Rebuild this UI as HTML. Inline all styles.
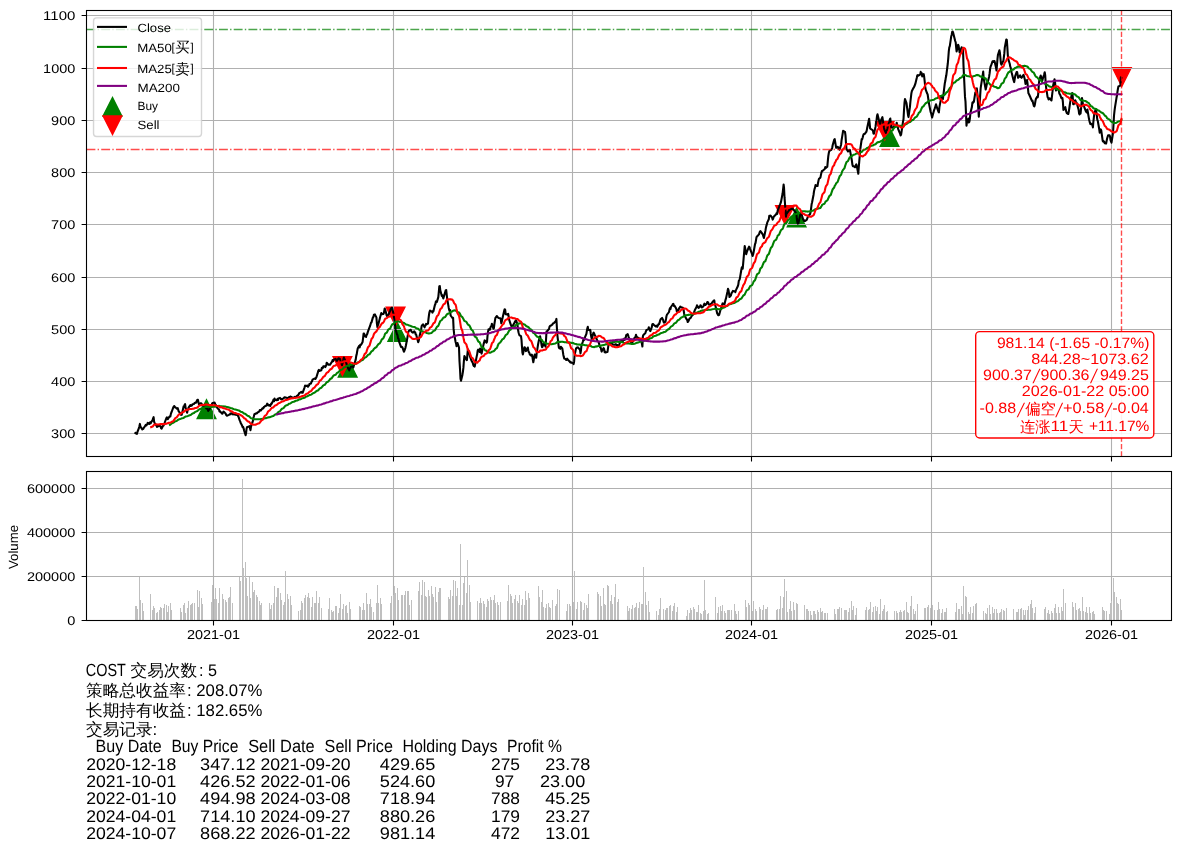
<!DOCTYPE html>
<html lang="zh"><head><meta charset="utf-8"><title>COST</title><style>html,body{margin:0;padding:0;background:#fff}body{width:1180px;height:852px;overflow:hidden}</style></head><body>
<svg width="1180" height="852" viewBox="0 0 1180 852" style="display:block;will-change:transform">
<rect width="1180" height="852" fill="#fff"/>
<path d="M206.5 399.9L197.2 418.5L215.8 418.5Z" fill="#008000" stroke="#008000" stroke-width="1.39" stroke-linejoin="miter" stroke-miterlimit="10"/>
<path d="M347.6 358.4L338.3 377.0L357.0 377.0Z" fill="#008000" stroke="#008000" stroke-width="1.39" stroke-linejoin="miter" stroke-miterlimit="10"/>
<path d="M397.3 322.6L388.0 341.2L406.6 341.2Z" fill="#008000" stroke="#008000" stroke-width="1.39" stroke-linejoin="miter" stroke-miterlimit="10"/>
<path d="M796.6 208.1L787.3 226.8L805.9 226.8Z" fill="#008000" stroke="#008000" stroke-width="1.39" stroke-linejoin="miter" stroke-miterlimit="10"/>
<path d="M889.5 127.6L880.2 146.2L898.8 146.2Z" fill="#008000" stroke="#008000" stroke-width="1.39" stroke-linejoin="miter" stroke-miterlimit="10"/>
<path d="M342.4 375.4L333.1 356.7L351.7 356.7Z" fill="#ff0000" stroke="#ff0000" stroke-width="1.39" stroke-linejoin="miter" stroke-miterlimit="10"/>
<path d="M395.5 325.8L386.2 307.1L404.9 307.1Z" fill="#ff0000" stroke="#ff0000" stroke-width="1.39" stroke-linejoin="miter" stroke-miterlimit="10"/>
<path d="M785.0 224.2L775.7 205.6L794.3 205.6Z" fill="#ff0000" stroke="#ff0000" stroke-width="1.39" stroke-linejoin="miter" stroke-miterlimit="10"/>
<path d="M884.8 139.9L875.5 121.3L894.1 121.3Z" fill="#ff0000" stroke="#ff0000" stroke-width="1.39" stroke-linejoin="miter" stroke-miterlimit="10"/>
<path d="M1121.8 86.4L1112.5 67.7L1131.2 67.7Z" fill="#ff0000" stroke="#ff0000" stroke-width="1.39" stroke-linejoin="miter" stroke-miterlimit="10"/>
<path d="M213.5 10.5V456.5M393.5 10.5V456.5M572.5 10.5V456.5M751.5 10.5V456.5M931.5 10.5V456.5M1111.5 10.5V456.5M86.5 433.5H1171.5M86.5 381.5H1171.5M86.5 329.5H1171.5M86.5 277.5H1171.5M86.5 224.5H1171.5M86.5 172.5H1171.5M86.5 120.5H1171.5M86.5 68.5H1171.5M86.5 15.5H1171.5" stroke="#b0b0b0" stroke-width="1.1" fill="none"/>
<polyline points="135.4,433.0 135.9,433.4 136.4,433.7 136.9,433.9 137.4,432.0 138.9,428.2 139.4,426.3 139.9,423.9 140.4,426.4 140.8,427.2 142.3,429.4 142.8,429.1 143.3,428.8 143.8,427.8 144.3,427.2 145.8,424.9 146.3,425.5 146.7,424.8 147.2,424.4 147.7,422.9 149.2,423.9 149.7,422.8 150.2,422.3 150.7,423.4 151.2,422.1 152.6,420.1 153.1,418.4 153.6,417.2 154.1,421.6 154.6,423.0 156.6,426.0 157.1,426.9 157.6,425.3 158.1,426.4 159.5,424.9 160.0,426.1 160.5,426.2 161.0,428.1 161.5,428.7 163.0,425.7 163.5,425.7 164.0,424.4 164.5,423.8 164.9,422.0 166.4,418.1 166.9,417.3 167.4,418.3 167.9,419.2 168.4,418.0 169.9,416.3 170.4,416.4 170.8,414.1 171.3,412.7 171.8,411.5 173.3,407.4 173.8,406.6 174.3,406.1 174.8,407.3 175.3,407.1 176.7,408.6 177.2,408.4 177.7,408.1 178.2,409.8 178.7,411.4 180.2,413.2 180.7,414.0 181.2,414.9 181.7,414.7 182.2,412.7 183.6,406.4 184.1,406.9 184.6,404.9 185.1,404.1 185.6,407.9 187.1,412.7 187.6,410.3 188.1,409.1 188.5,407.8 189.0,406.9 190.5,405.0 191.0,405.9 191.5,405.7 192.0,405.2 192.5,404.2 194.0,403.9 194.4,403.2 194.9,402.9 195.9,402.8 197.4,399.7 197.9,399.8 198.4,402.3 198.9,404.3 199.4,403.8 200.8,403.3 201.3,403.3 201.8,404.0 202.3,405.7 202.8,405.3 204.3,405.9 204.8,406.3 205.3,406.6 205.8,407.8 206.2,408.3 207.7,409.2 208.2,411.0 208.7,409.7 209.2,409.8 211.2,405.4 211.7,405.5 212.1,403.5 212.6,403.0 214.6,402.6 215.1,404.1 215.6,405.0 216.1,405.2 216.6,407.0 218.0,408.7 218.5,409.1 219.0,409.6 219.5,411.6 220.0,411.2 222.0,413.6 222.5,413.6 223.0,412.5 223.5,411.6 224.9,412.8 225.4,413.4 225.9,414.1 226.4,415.3 226.9,415.7 228.4,415.1 228.9,414.9 229.4,414.5 229.9,414.5 230.3,413.6 231.8,413.2 232.3,414.3 232.8,413.5 233.3,413.1 233.8,414.5 235.8,414.2 236.2,414.9 236.7,414.5 237.2,414.2 238.7,417.2 239.2,418.9 239.7,420.4 240.2,421.4 240.7,423.0 242.1,425.6 242.6,427.1 243.1,426.8 243.6,428.3 244.1,430.5 245.6,435.3 246.1,433.0 246.6,428.5 247.1,427.1 247.6,427.0 249.0,426.4 249.5,426.2 250.0,428.2 250.5,430.2 251.0,426.6 252.5,422.2 253.0,420.6 253.5,417.5 253.9,416.2 254.4,414.2 255.9,413.5 256.4,413.2 256.9,413.4 257.4,412.7 259.4,411.3 259.8,410.0 260.3,410.1 260.8,410.5 261.3,409.9 262.8,408.0 263.3,408.4 263.8,407.1 264.3,407.0 264.8,406.3 266.2,405.8 266.7,404.8 267.2,403.7 267.7,404.1 268.2,405.4 269.7,405.1 270.2,406.0 270.7,404.9 271.2,403.6 271.6,403.9 273.1,400.7 273.6,399.5 274.1,401.3 274.6,398.6 275.1,399.6 276.6,400.3 277.1,400.0 277.6,398.7 278.0,400.0 278.5,398.4 280.0,397.9 280.5,398.5 281.0,399.3 281.5,399.1 282.0,399.5 283.5,398.3 283.9,398.1 284.4,397.2 284.9,397.2 285.4,397.6 287.4,398.1 287.9,398.8 288.4,397.8 288.9,397.3 290.3,396.6 290.8,396.6 291.3,397.2 291.8,397.1 292.3,398.1 293.8,397.5 294.3,397.6 294.8,396.9 295.3,397.2 295.7,397.3 297.2,395.6 297.7,395.7 298.2,395.4 298.7,394.2 299.2,393.2 300.7,392.3 301.2,391.9 301.6,392.2 302.1,392.7 302.6,392.8 304.6,387.3 305.1,385.6 305.6,385.9 306.1,386.0 307.5,385.5 308.0,386.8 308.5,385.6 309.0,385.5 309.5,383.9 311.0,383.4 311.5,381.8 312.0,381.4 312.5,379.7 313.0,379.4 314.4,378.6 314.9,378.6 315.4,379.0 315.9,378.1 316.4,377.3 317.9,372.4 318.4,370.6 318.9,369.9 319.3,370.4 319.8,370.9 321.3,370.2 321.8,367.9 322.3,368.2 322.8,368.0 323.3,366.3 324.8,366.3 325.2,367.1 325.7,366.4 326.2,365.0 326.7,362.7 328.2,364.5 328.7,364.8 329.2,364.5 329.7,364.8 330.2,364.5 331.6,362.2 332.1,361.7 332.6,360.0 333.1,361.2 333.6,359.7 335.6,358.9 336.1,359.6 336.6,360.8 337.1,360.7 338.5,358.3 339.0,359.0 339.5,358.6 340.0,359.0 340.5,360.7 342.0,365.3 342.5,363.2 343.0,362.2 343.4,359.1 343.9,357.6 345.4,361.0 345.9,362.4 346.4,363.1 346.9,366.0 347.4,366.7 348.9,369.7 349.3,370.3 349.8,368.5 350.3,368.0 350.8,366.9 352.3,365.4 352.8,366.1 353.3,367.6 353.8,365.7 354.3,364.1 355.7,359.6 356.2,356.1 356.7,354.3 357.2,351.2 357.7,348.6 359.2,345.8 359.7,347.4 360.2,345.1 360.7,344.6 361.1,344.7 362.6,341.9 363.1,337.9 363.6,333.6 364.1,333.6 364.6,336.0 366.1,336.9 366.6,334.6 367.0,334.7 367.5,333.2 368.0,331.3 369.5,327.3 370.0,326.3 370.5,324.5 371.0,322.8 371.5,322.4 372.9,317.4 373.4,317.0 373.9,314.7 374.9,314.4 376.4,317.4 376.9,323.6 377.4,327.0 377.9,325.2 378.4,324.0 379.8,318.4 380.3,316.5 380.8,314.9 381.3,313.0 381.8,314.2 383.3,314.0 383.8,313.4 384.3,310.6 384.7,308.5 385.2,309.4 386.7,315.4 387.2,316.3 387.7,315.2 388.2,315.4 390.2,310.6 390.7,309.1 391.1,308.8 391.6,307.8 392.1,307.7 393.6,314.4 394.1,318.1 394.6,321.9 395.1,325.8 395.6,329.5 397.0,334.4 397.5,335.1 398.0,338.3 398.5,338.8 399.0,341.3 401.0,346.9 401.5,346.7 402.0,346.9 402.5,347.6 403.9,351.7 404.4,350.7 404.9,349.3 405.4,347.8 405.9,345.5 407.4,337.6 407.9,334.7 408.4,331.7 408.8,331.1 409.3,330.4 410.8,329.8 411.3,331.1 411.8,331.8 412.3,332.4 412.8,332.6 414.3,331.4 414.7,332.4 415.2,332.3 415.7,334.4 416.2,334.7 418.2,342.2 418.7,340.8 419.2,338.4 419.7,335.6 421.1,329.7 421.6,326.3 422.1,325.2 422.6,324.8 423.1,324.4 424.6,327.3 425.1,325.4 425.6,325.3 426.1,323.9 426.5,324.3 428.0,323.6 428.5,318.8 429.0,314.8 429.5,312.0 430.0,310.6 431.5,311.4 432.0,311.7 432.4,312.6 432.9,311.0 433.4,311.3 434.9,305.0 435.4,304.0 435.9,301.5 436.4,301.3 436.9,301.9 438.3,297.1 438.8,292.2 439.3,286.4 439.8,286.0 440.3,290.3 441.8,295.9 442.3,295.2 442.8,297.0 443.3,298.5 445.2,292.1 445.7,290.4 446.2,290.0 446.7,294.5 447.2,298.8 448.7,307.7 449.2,310.0 449.7,311.3 450.2,310.1 450.6,315.5 452.1,317.5 452.6,318.1 453.1,317.9 453.6,328.9 454.1,333.7 455.6,342.0 456.1,343.7 456.5,346.2 457.0,344.4 457.5,343.0 459.0,347.5 459.5,361.3 460.0,368.9 460.5,378.7 461.0,380.8 462.4,374.9 462.9,371.8 463.4,367.7 463.9,360.9 464.4,356.1 466.4,359.7 466.9,360.1 467.4,354.2 467.9,349.3 469.3,353.3 469.8,355.9 470.3,357.4 470.8,358.7 471.3,360.3 472.8,363.0 473.3,365.0 473.8,365.9 474.2,365.4 474.7,366.6 476.7,356.4 477.2,354.1 477.7,350.5 478.2,349.6 479.7,351.8 480.1,348.5 480.6,348.9 481.1,352.0 481.6,353.6 483.6,344.1 484.1,342.4 484.6,340.4 485.1,340.6 486.5,342.7 487.0,342.0 487.5,336.1 488.0,331.9 488.5,329.4 490.0,329.6 490.5,327.2 491.0,326.4 491.5,325.9 491.9,323.8 493.4,328.7 493.9,328.2 494.4,324.0 494.9,320.8 495.4,317.8 496.9,316.0 497.4,317.0 497.8,317.4 498.3,317.7 498.8,318.0 500.3,318.3 500.8,319.7 501.3,323.3 501.8,321.6 502.3,318.9 503.8,312.4 504.2,310.7 504.7,309.2 505.2,309.9 505.7,314.3 507.2,314.6 507.7,314.0 508.2,313.9 508.7,316.8 509.2,319.9 510.6,324.1 511.1,325.5 511.6,326.4 512.1,326.5 512.6,326.0 514.6,322.6 515.1,321.2 515.6,321.4 516.0,320.2 517.5,324.7 518.0,329.5 518.5,332.2 519.0,334.0 519.5,335.3 521.0,336.1 521.5,339.8 521.9,345.6 522.4,352.5 522.9,354.4 524.4,347.2 524.9,347.4 525.4,349.5 525.9,351.1 526.4,350.5 527.8,347.5 528.3,350.5 528.8,352.1 529.3,352.7 529.8,354.4 531.3,355.7 531.8,354.6 532.3,356.0 532.8,359.5 533.3,362.3 534.7,354.6 535.2,354.9 535.7,354.9 536.2,357.8 536.7,353.1 538.2,343.7 538.7,341.1 539.2,339.4 539.6,338.0 540.1,336.2 541.6,345.2 542.1,347.2 542.6,346.8 543.1,344.5 543.6,343.5 545.1,345.7 545.5,346.7 546.0,340.0 546.5,331.5 547.0,331.3 548.5,329.5 549.0,329.1 549.5,326.8 550.0,326.0 550.5,325.8 551.9,324.9 552.4,324.5 552.9,323.5 553.9,323.1 555.4,321.6 555.9,320.9 556.4,318.9 556.9,328.0 557.4,335.3 558.8,347.2 559.3,348.2 559.8,348.4 560.3,348.8 560.8,346.7 562.3,348.4 562.8,351.4 563.3,354.7 563.7,356.6 564.2,358.5 565.7,359.1 566.2,360.0 566.7,359.8 567.2,358.6 567.7,359.6 569.6,361.4 570.1,362.2 570.6,361.8 571.1,362.8 573.1,362.9 573.6,364.1 574.1,361.7 574.6,355.2 576.0,348.6 576.5,348.1 577.0,347.6 577.5,347.7 578.0,347.4 580.0,349.8 580.5,353.4 581.0,350.0 581.4,345.8 582.9,341.5 583.4,339.6 583.9,340.2 584.4,338.3 584.9,337.4 586.4,333.8 586.9,330.6 587.3,328.5 587.8,326.8 588.3,329.8 589.8,330.3 590.3,329.9 590.8,334.0 591.3,337.0 591.8,338.9 593.2,333.4 593.7,332.6 594.2,333.6 594.7,335.0 595.2,335.7 597.2,340.5 597.7,341.3 598.2,341.4 598.7,342.4 600.1,347.1 600.6,347.4 601.1,349.3 601.6,351.6 602.1,350.5 603.6,348.1 604.1,349.0 604.6,352.2 605.0,351.5 605.5,352.5 607.0,352.1 607.5,351.8 608.0,348.2 608.5,344.9 609.0,343.5 610.5,343.4 611.0,343.4 611.4,343.5 611.9,343.5 612.4,344.2 613.9,344.8 614.4,344.7 614.9,344.6 615.4,344.8 615.9,344.2 617.3,345.8 617.8,345.2 618.3,345.8 618.8,346.0 620.8,340.1 621.3,340.1 621.8,341.5 622.3,341.5 622.8,341.3 624.2,338.7 624.7,339.8 625.2,339.1 625.7,337.7 626.2,335.1 627.7,334.2 628.2,335.6 628.7,337.7 629.1,338.0 629.6,340.1 631.1,342.2 631.6,343.7 632.1,342.1 632.6,342.0 633.1,340.4 634.6,337.7 635.0,337.4 635.5,337.0 636.0,334.7 636.5,336.6 638.0,338.0 638.5,337.9 639.0,339.1 639.5,338.8 640.0,339.8 641.4,341.2 641.9,343.8 642.4,346.5 642.9,336.1 643.4,334.9 645.4,332.9 645.9,331.3 646.4,330.0 646.8,329.9 648.3,329.3 648.8,327.2 649.3,329.2 649.8,329.6 650.3,331.1 651.8,327.1 652.3,324.5 652.7,324.0 653.2,324.1 653.7,324.7 655.7,326.4 656.2,326.2 656.7,325.7 657.2,326.8 658.6,324.0 659.1,324.1 659.6,322.7 660.1,320.6 660.6,319.3 662.1,317.9 663.1,319.9 663.6,321.9 664.1,322.7 665.5,321.6 666.0,319.0 666.5,316.0 667.0,314.7 667.5,314.0 669.0,312.0 669.5,309.6 670.0,308.1 670.5,309.0 670.9,307.0 672.4,305.0 672.9,304.0 673.4,303.9 673.9,305.9 674.4,305.6 675.9,308.0 676.4,309.1 676.8,311.4 677.3,311.4 677.8,311.2 679.3,308.0 679.8,307.5 680.3,306.6 680.8,307.1 681.3,307.3 682.7,307.8 683.2,308.0 683.7,310.5 684.2,314.0 684.7,315.9 686.2,318.5 686.7,319.5 687.2,319.7 687.7,322.0 688.2,321.5 689.6,318.5 690.1,318.2 690.6,318.1 691.1,317.1 691.6,316.1 693.6,314.0 694.1,312.2 694.5,311.1 695.0,309.7 696.5,307.1 697.0,305.3 697.5,306.0 698.0,307.3 698.5,307.9 700.0,306.6 700.4,305.2 700.9,305.6 701.4,306.6 701.9,307.5 703.4,306.5 703.9,304.6 704.4,303.6 704.9,304.8 705.4,305.0 706.8,303.6 707.3,302.0 707.8,302.1 708.3,302.8 708.8,304.4 710.3,304.8 710.8,303.9 711.3,303.6 711.8,303.3 712.2,302.4 713.7,300.6 714.2,300.3 714.7,303.0 715.2,305.1 715.7,306.8 717.2,313.4 717.7,314.2 718.1,315.0 718.6,315.3 719.1,314.9 720.6,309.5 721.1,308.9 721.6,305.6 722.1,305.0 722.6,303.4 724.1,304.0 724.5,304.2 725.0,302.1 725.5,299.9 726.0,298.4 727.5,291.5 728.0,288.8 728.5,290.1 729.0,293.3 729.5,297.0 730.9,295.6 731.4,293.4 731.9,292.7 732.9,290.9 734.4,291.2 734.9,291.3 735.4,292.1 735.9,290.1 736.3,289.4 737.8,286.2 738.3,284.6 738.8,280.8 739.3,280.2 739.8,278.9 741.3,270.0 741.8,267.4 742.2,267.7 742.7,268.7 743.2,263.1 744.7,246.0 745.2,248.2 745.7,252.6 746.2,254.2 746.7,252.4 748.6,247.7 749.1,246.6 749.6,247.3 750.1,249.1 752.1,254.2 752.6,256.0 753.1,254.5 753.6,252.2 755.0,244.2 755.5,243.0 756.0,240.1 756.5,237.1 757.0,236.5 759.0,234.4 759.5,232.8 759.9,231.7 760.4,231.0 761.9,233.1 762.4,233.9 762.9,234.7 763.4,236.4 763.9,238.0 765.4,230.9 765.8,228.3 766.3,226.1 766.8,224.4 767.3,222.4 768.8,219.3 769.3,215.7 769.8,215.8 770.3,215.6 770.8,215.7 772.2,218.0 772.7,219.6 773.2,218.4 773.7,216.7 774.2,216.2 776.2,214.2 776.7,213.0 777.2,213.9 777.6,210.9 779.1,206.9 779.6,205.4 780.1,204.4 780.6,203.2 781.1,201.4 782.6,193.5 783.1,189.1 783.6,184.5 784.0,187.4 784.5,197.2 786.0,216.7 786.5,213.3 787.0,213.3 787.5,212.2 788.0,211.9 789.5,209.7 789.9,209.8 790.4,209.5 790.9,208.8 791.4,208.9 792.9,208.9 793.4,209.7 793.9,210.0 794.4,210.9 796.3,213.4 796.8,218.5 797.3,221.9 797.8,223.6 798.3,223.4 799.8,216.8 800.3,214.8 800.8,212.6 801.3,211.6 801.7,214.8 803.2,219.6 803.7,219.8 804.2,221.0 804.7,220.9 805.2,220.9 806.7,219.9 807.2,218.6 807.6,217.5 808.1,216.4 808.6,215.7 810.1,214.0 810.6,211.9 811.1,208.4 811.6,204.3 812.1,202.3 813.5,195.0 814.0,191.4 814.5,189.1 815.0,187.7 815.5,185.1 817.0,186.0 817.5,186.0 818.0,183.0 818.5,180.6 819.0,178.7 820.4,177.6 820.9,175.1 821.4,172.8 821.9,171.1 822.4,171.0 824.4,169.2 824.9,168.7 825.3,167.1 825.8,168.0 827.3,166.7 827.8,161.2 828.3,156.1 828.8,153.0 829.3,151.1 830.8,150.0 831.2,149.9 831.7,149.0 832.2,147.8 832.7,145.0 834.2,139.7 834.7,139.1 835.7,145.1 836.2,147.8 837.6,146.8 838.1,147.1 838.6,148.7 839.1,148.8 839.6,149.6 841.1,144.7 841.6,140.0 842.1,137.1 843.1,130.8 844.5,131.7 845.0,132.0 845.5,135.4 846.0,143.5 846.5,149.0 848.0,151.5 848.5,150.8 849.0,150.1 849.4,150.3 849.9,149.9 851.4,158.0 851.9,160.8 852.4,164.6 852.9,166.2 853.4,166.0 854.9,167.3 855.3,167.0 855.8,165.2 856.3,164.4 856.8,166.0 858.3,173.8 858.8,166.7 859.3,160.9 859.8,155.0 860.3,149.0 861.7,139.1 862.2,139.3 862.7,137.5 863.2,135.4 863.7,134.2 865.2,133.5 865.7,132.6 866.2,132.1 866.7,130.7 867.1,128.3 868.6,121.2 869.1,118.7 869.6,122.9 870.1,128.3 870.6,128.9 872.6,130.1 873.0,130.9 873.5,133.5 874.0,133.7 875.5,126.9 876.0,122.7 876.5,120.4 877.0,116.1 877.5,114.3 878.9,120.0 879.4,122.0 879.9,123.8 880.4,123.5 880.9,120.5 882.4,117.2 882.9,120.5 883.4,124.5 883.9,127.3 884.4,129.7 885.8,132.9 886.3,130.7 886.8,130.3 887.3,129.0 887.8,126.4 889.3,121.8 889.8,119.4 890.3,118.5 890.8,123.3 891.2,127.5 892.7,127.6 893.2,127.6 893.7,126.2 894.2,126.4 894.7,126.8 896.2,125.5 896.7,122.7 897.1,125.0 897.6,126.1 898.1,128.9 899.6,132.5 900.1,133.6 900.6,135.4 901.1,134.7 901.6,131.3 903.0,121.6 903.5,119.3 904.0,110.2 904.5,102.7 905.0,99.0 906.5,103.2 907.0,107.0 907.5,110.9 908.0,114.9 908.5,117.1 909.9,107.2 910.4,101.7 910.9,97.5 911.4,93.2 911.9,90.9 913.4,88.1 913.9,87.3 914.4,86.3 915.3,83.9 916.8,77.7 917.3,75.4 917.8,75.1 918.3,75.7 918.8,75.3 920.3,74.3 920.7,71.9 921.2,73.8 921.7,73.1 922.2,76.4 923.7,74.1 924.2,77.0 924.7,81.5 925.2,86.6 925.7,89.7 927.1,93.4 927.6,94.2 928.6,101.0 929.1,104.1 930.6,111.8 931.1,113.1 932.1,117.6 932.5,115.9 934.0,110.4 934.5,109.2 935.0,107.7 936.0,104.2 937.5,109.2 938.0,110.5 938.4,111.7 938.9,112.4 939.4,107.1 941.4,96.6 941.9,97.1 942.4,98.1 942.9,99.1 944.3,87.4 944.8,83.3 945.3,81.1 945.8,77.7 946.3,75.3 947.8,63.5 948.3,57.9 948.8,51.2 949.3,47.4 949.8,46.1 951.2,36.6 951.7,34.7 952.2,31.9 952.7,31.5 953.2,32.9 955.2,41.0 955.7,42.3 956.2,47.9 956.6,51.5 958.1,44.8 958.6,45.8 959.1,49.0 959.6,52.4 960.1,51.9 961.6,47.2 962.1,47.8 962.5,48.1 963.0,48.9 963.5,65.6 965.0,96.9 965.5,101.6 966.0,113.8 966.5,125.7 967.0,121.8 968.4,118.7 968.9,122.5 969.4,121.7 969.9,118.3 970.4,113.0 971.9,107.1 972.4,102.6 972.9,102.9 973.4,101.6 973.9,101.7 975.3,92.7 975.8,92.4 976.3,88.5 976.8,88.4 977.3,93.0 978.8,116.6 979.3,109.2 979.8,102.5 980.2,94.9 980.7,87.8 982.2,78.1 982.7,75.1 983.2,71.6 983.7,78.6 985.7,89.5 986.1,87.8 986.6,85.4 987.1,83.0 987.6,82.4 989.1,76.7 989.6,73.4 990.1,69.1 990.6,66.4 991.1,65.5 992.5,61.4 993.0,61.1 993.5,62.0 994.0,61.3 994.5,61.0 996.0,67.6 996.5,70.5 997.0,64.8 997.5,58.8 997.9,55.1 999.4,50.3 999.9,52.7 1000.4,58.2 1000.9,63.4 1001.4,64.7 1003.4,60.8 1003.9,56.9 1004.3,53.7 1004.8,47.4 1006.3,39.5 1006.8,39.8 1007.3,46.6 1007.8,55.1 1008.3,59.1 1009.8,64.0 1010.2,66.4 1010.7,67.6 1011.2,70.4 1011.7,72.7 1013.2,78.9 1013.7,80.7 1014.2,82.1 1015.2,76.0 1016.6,72.1 1017.1,72.0 1017.6,74.6 1018.1,77.8 1018.6,77.1 1020.1,75.3 1020.6,77.0 1021.1,77.2 1021.6,77.8 1023.5,74.9 1024.0,76.3 1024.5,78.3 1025.0,80.3 1025.5,83.9 1027.0,80.0 1027.5,83.2 1027.9,87.7 1028.4,93.2 1028.9,94.0 1030.4,97.3 1030.9,98.5 1031.4,99.7 1031.9,100.9 1032.4,100.5 1033.8,105.8 1034.3,106.5 1034.8,104.9 1035.3,101.8 1035.8,99.1 1037.3,96.6 1037.8,97.2 1038.3,93.1 1038.8,85.0 1039.3,80.0 1040.7,75.5 1041.2,76.9 1041.7,80.2 1042.2,80.9 1042.7,79.0 1044.2,74.2 1044.7,72.2 1045.2,75.1 1045.6,81.9 1046.1,87.3 1047.6,97.2 1048.1,97.8 1048.6,99.5 1049.1,98.4 1049.6,98.3 1051.5,100.5 1052.0,96.0 1052.5,91.7 1053.0,86.3 1054.5,79.2 1055.0,81.5 1055.5,87.9 1056.0,90.5 1056.5,88.5 1057.9,89.3 1058.4,89.9 1058.9,90.9 1059.4,93.8 1059.9,94.2 1061.4,98.1 1061.9,98.4 1062.4,97.9 1062.9,102.0 1063.4,110.0 1064.8,108.1 1065.3,107.2 1065.8,110.1 1066.3,111.7 1066.8,113.1 1068.3,114.0 1068.8,111.6 1069.3,108.3 1069.7,105.5 1070.2,102.1 1071.7,94.8 1072.2,93.1 1072.7,96.2 1073.2,104.3 1073.7,104.3 1075.2,100.2 1075.6,100.9 1076.1,103.5 1076.6,102.7 1077.1,104.3 1078.6,109.6 1079.1,113.5 1079.6,114.4 1080.1,112.9 1080.6,113.4 1082.0,98.0 1082.5,102.2 1083.0,103.6 1083.5,104.9 1084.0,106.3 1085.5,110.4 1086.0,111.5 1086.5,112.3 1087.0,110.9 1087.4,109.5 1088.9,118.3 1089.4,120.8 1089.9,122.7 1090.4,124.1 1090.9,123.6 1092.4,125.0 1092.9,127.4 1093.3,122.4 1094.3,113.5 1095.8,109.2 1096.3,111.8 1096.8,115.4 1097.3,119.6 1097.8,121.0 1099.2,129.0 1099.7,132.7 1100.2,130.4 1100.7,129.4 1101.2,130.2 1102.7,140.9 1103.2,141.6 1103.7,141.2 1104.2,141.7 1104.7,143.2 1106.1,143.5 1106.6,141.1 1107.1,138.5 1108.1,135.2 1109.6,135.2 1110.1,136.8 1110.6,140.3 1111.5,142.7 1113.0,133.1 1113.5,124.4 1114.0,115.7 1114.5,110.9 1115.0,107.1 1116.5,97.8 1117.0,95.3 1117.4,92.2 1117.9,89.0 1118.4,86.5 1120.4,85.6 1120.9,77.3 1121.4,77.9" fill="none" stroke="#000" stroke-width="2.08" stroke-linejoin="round" stroke-linecap="square"/>
<polyline points="169.9,424.9 170.4,424.6 170.8,424.2 171.3,423.8 171.8,423.3 173.3,422.8 173.8,422.4 174.3,422.0 174.8,421.7 175.3,421.3 176.7,420.9 177.2,420.5 177.7,420.1 178.2,419.7 178.7,419.4 180.2,419.1 180.7,418.9 181.2,418.6 181.7,418.4 182.2,418.2 183.6,417.9 184.1,417.5 184.6,417.2 185.1,416.8 185.6,416.5 187.1,416.3 187.6,416.1 188.1,415.9 188.5,415.7 189.0,415.5 190.5,415.1 191.0,414.7 191.5,414.3 192.0,413.9 192.5,413.4 194.0,413.0 194.4,412.5 194.9,412.1 195.9,411.6 197.4,411.0 197.9,410.5 198.4,410.0 198.9,409.6 199.4,409.2 200.8,408.8 201.3,408.5 201.8,408.3 202.3,408.0 202.8,407.7 204.3,407.5 204.8,407.3 205.3,407.1 205.8,407.0 206.2,406.9 207.7,406.8 208.2,406.9 208.7,407.0 209.2,407.0 211.2,407.0 211.7,407.0 212.1,406.9 212.6,406.8 214.6,406.7 215.1,406.5 215.6,406.4 216.1,406.3 216.6,406.1 218.0,406.0 218.5,405.9 219.0,405.8 219.5,405.9 220.0,406.0 222.0,406.2 222.5,406.4 223.0,406.5 223.5,406.4 224.9,406.5 225.4,406.6 225.9,406.7 226.4,406.9 226.9,407.1 228.4,407.3 228.9,407.5 229.4,407.6 229.9,407.8 230.3,408.0 231.8,408.2 232.3,408.5 232.8,408.7 233.3,408.9 233.8,409.2 235.8,409.5 236.2,409.7 236.7,409.9 237.2,410.1 238.7,410.4 239.2,410.7 239.7,411.0 240.2,411.3 240.7,411.7 242.1,412.0 242.6,412.4 243.1,412.8 243.6,413.2 244.1,413.6 245.6,414.1 246.1,414.6 246.6,415.0 247.1,415.4 247.6,415.8 249.0,416.3 249.5,416.8 250.0,417.3 250.5,417.8 251.0,418.2 252.5,418.6 253.0,418.8 253.5,419.0 253.9,419.2 254.4,419.3 255.9,419.3 256.4,419.3 256.9,419.3 257.4,419.3 259.4,419.3 259.8,419.3 260.3,419.2 260.8,419.1 261.3,419.1 262.8,418.9 263.3,418.8 263.8,418.6 264.3,418.4 264.8,418.3 266.2,418.1 266.7,417.9 267.2,417.7 267.7,417.5 268.2,417.4 269.7,417.2 270.2,417.0 270.7,416.9 271.2,416.6 271.6,416.4 273.1,416.1 273.6,415.8 274.1,415.4 274.6,415.0 275.1,414.6 276.6,414.1 277.1,413.6 277.6,413.0 278.0,412.5 278.5,411.9 280.0,411.3 280.5,410.5 281.0,409.8 281.5,409.3 282.0,408.7 283.5,408.1 283.9,407.6 284.4,407.0 284.9,406.4 285.4,405.7 287.4,405.1 287.9,404.7 288.4,404.2 288.9,403.8 290.3,403.4 290.8,403.1 291.3,402.7 291.8,402.4 292.3,402.1 293.8,401.8 294.3,401.5 294.8,401.3 295.3,401.0 295.7,400.8 297.2,400.5 297.7,400.2 298.2,400.0 298.7,399.7 299.2,399.4 300.7,399.2 301.2,398.9 301.6,398.6 302.1,398.4 302.6,398.2 304.6,397.8 305.1,397.4 305.6,397.0 306.1,396.6 307.5,396.3 308.0,395.9 308.5,395.6 309.0,395.4 309.5,395.0 311.0,394.7 311.5,394.4 312.0,394.0 312.5,393.6 313.0,393.2 314.4,392.8 314.9,392.4 315.4,392.0 315.9,391.6 316.4,391.1 317.9,390.6 318.4,390.0 318.9,389.5 319.3,388.9 319.8,388.4 321.3,387.8 321.8,387.2 322.3,386.6 322.8,386.0 323.3,385.4 324.8,384.8 325.2,384.2 325.7,383.6 326.2,382.9 326.7,382.3 328.2,381.6 328.7,380.9 329.2,380.3 329.7,379.6 330.2,379.0 331.6,378.3 332.1,377.6 332.6,376.9 333.1,376.2 333.6,375.5 335.6,374.8 336.1,374.2 336.6,373.5 337.1,372.9 338.5,372.2 339.0,371.5 339.5,371.0 340.0,370.4 340.5,369.9 342.0,369.5 342.5,369.1 343.0,368.6 343.4,368.1 343.9,367.5 345.4,367.0 345.9,366.6 346.4,366.2 346.9,365.9 347.4,365.7 348.9,365.5 349.3,365.3 349.8,365.1 350.3,364.9 350.8,364.7 352.3,364.4 352.8,364.3 353.3,364.2 353.8,364.2 354.3,364.0 355.7,363.8 356.2,363.5 356.7,363.3 357.2,362.9 357.7,362.5 359.2,362.1 359.7,361.7 360.2,361.3 360.7,360.9 361.1,360.5 362.6,360.0 363.1,359.5 363.6,358.9 364.1,358.3 364.6,357.7 366.1,357.1 366.6,356.6 367.0,356.1 367.5,355.5 368.0,354.9 369.5,354.3 370.0,353.6 370.5,352.9 371.0,352.2 371.5,351.4 372.9,350.6 373.4,349.7 373.9,348.9 374.9,348.0 376.4,347.1 376.9,346.3 377.4,345.5 377.9,344.8 378.4,344.1 379.8,343.3 380.3,342.4 380.8,341.5 381.3,340.5 381.8,339.4 383.3,338.4 383.8,337.2 384.3,336.1 384.7,334.9 385.2,333.7 386.7,332.7 387.2,331.7 387.7,330.7 388.2,329.6 390.2,328.5 390.7,327.4 391.1,326.4 391.6,325.4 392.1,324.5 393.6,323.8 394.1,323.1 394.6,322.7 395.1,322.2 395.6,321.9 397.0,321.7 397.5,321.5 398.0,321.5 398.5,321.5 399.0,321.6 401.0,321.9 401.5,322.1 402.0,322.3 402.5,322.6 403.9,322.9 404.4,323.3 404.9,323.6 405.4,324.0 405.9,324.4 407.4,324.7 407.9,324.9 408.4,325.1 408.8,325.4 409.3,325.6 410.8,325.9 411.3,326.3 411.8,326.6 412.3,326.7 412.8,326.8 414.3,327.0 414.7,327.1 415.2,327.4 415.7,327.8 416.2,328.2 418.2,328.8 418.7,329.3 419.2,329.8 419.7,330.2 421.1,330.6 421.6,331.0 422.1,331.3 422.6,331.5 423.1,331.6 424.6,331.9 425.1,332.1 425.6,332.4 426.1,332.7 426.5,333.0 428.0,333.3 428.5,333.5 429.0,333.5 429.5,333.4 430.0,333.2 431.5,332.9 432.0,332.5 432.4,332.1 432.9,331.6 433.4,331.1 434.9,330.4 435.4,329.6 435.9,328.7 436.4,327.8 436.9,326.9 438.3,325.9 438.8,324.7 439.3,323.4 439.8,322.2 440.3,321.0 441.8,320.0 442.3,319.2 442.8,318.4 443.3,317.8 445.2,317.0 445.7,316.2 446.2,315.4 446.7,314.7 447.2,314.0 448.7,313.5 449.2,313.1 449.7,312.7 450.2,312.2 450.6,311.9 452.1,311.5 452.6,311.2 453.1,310.7 453.6,310.5 454.1,310.4 455.6,310.5 456.1,310.8 456.5,311.2 457.0,311.6 457.5,311.9 459.0,312.4 459.5,313.1 460.0,313.9 460.5,315.0 461.0,316.2 462.4,317.2 462.9,318.1 463.4,319.1 463.9,320.0 464.4,320.9 466.4,321.9 466.9,322.9 467.4,323.7 467.9,324.5 469.3,325.3 469.8,326.2 470.3,327.2 470.8,328.3 471.3,329.5 472.8,330.7 473.3,332.0 473.8,333.4 474.2,334.8 474.7,336.4 476.7,337.9 477.2,339.1 477.7,340.2 478.2,341.3 479.7,342.4 480.1,343.4 480.6,344.5 481.1,345.8 481.6,347.0 483.6,348.0 484.1,348.9 484.6,349.6 485.1,350.2 486.5,350.8 487.0,351.4 487.5,351.9 488.0,352.1 488.5,352.4 490.0,352.6 490.5,352.6 491.0,352.4 491.5,352.1 491.9,351.7 493.4,351.3 493.9,351.0 494.4,350.6 494.9,350.1 495.4,349.2 496.9,348.2 497.4,346.9 497.8,345.7 498.3,344.5 498.8,343.5 500.3,342.5 500.8,341.6 501.3,341.0 501.8,340.2 502.3,339.4 503.8,338.6 504.2,337.8 504.7,336.9 505.2,336.0 505.7,335.1 507.2,334.2 507.7,333.3 508.2,332.3 508.7,331.4 509.2,330.5 510.6,329.6 511.1,328.8 511.6,328.2 512.1,327.7 512.6,327.2 514.6,326.6 515.1,326.0 515.6,325.5 516.0,324.9 517.5,324.3 518.0,323.9 518.5,323.6 519.0,323.5 519.5,323.4 521.0,323.3 521.5,323.2 521.9,323.3 522.4,323.6 522.9,324.1 524.4,324.4 524.9,324.8 525.4,325.2 525.9,325.7 526.4,326.2 527.8,326.7 528.3,327.1 528.8,327.6 529.3,328.2 529.8,328.8 531.3,329.6 531.8,330.4 532.3,331.2 532.8,332.0 533.3,332.9 534.7,333.6 535.2,334.4 535.7,335.1 536.2,335.7 536.7,336.4 538.2,336.9 538.7,337.4 539.2,338.0 539.6,338.6 540.1,339.1 541.6,339.7 542.1,340.4 542.6,341.1 543.1,341.7 543.6,342.2 545.1,342.7 545.5,343.2 546.0,343.5 546.5,343.6 547.0,343.7 548.5,343.7 549.0,343.9 549.5,344.0 550.0,344.1 550.5,344.2 551.9,344.2 552.4,344.1 552.9,343.9 553.9,343.7 555.4,343.4 555.9,343.1 556.4,342.7 556.9,342.3 557.4,342.0 558.8,341.9 559.3,341.9 559.8,341.9 560.3,341.9 560.8,341.8 562.3,341.7 562.8,341.8 563.3,341.9 563.7,342.0 564.2,342.1 565.7,342.2 566.2,342.3 566.7,342.4 567.2,342.4 567.7,342.4 569.6,342.4 570.1,342.6 570.6,342.7 571.1,342.9 573.1,343.0 573.6,343.2 574.1,343.6 574.6,343.8 576.0,344.0 576.5,344.2 577.0,344.5 577.5,344.5 578.0,344.5 580.0,344.6 580.5,344.7 581.0,344.9 581.4,344.9 582.9,344.8 583.4,344.8 583.9,344.9 584.4,345.1 584.9,345.2 586.4,345.3 586.9,345.4 587.3,345.5 587.8,345.5 588.3,345.6 589.8,345.7 590.3,345.8 590.8,346.0 591.3,346.3 591.8,346.7 593.2,347.0 593.7,347.1 594.2,347.1 594.7,346.8 595.2,346.6 597.2,346.4 597.7,346.2 598.2,346.1 598.7,346.0 600.1,345.9 600.6,345.8 601.1,345.6 601.6,345.5 602.1,345.3 603.6,345.1 604.1,344.9 604.6,344.8 605.0,344.6 605.5,344.4 607.0,344.2 607.5,344.0 608.0,343.7 608.5,343.4 609.0,342.9 610.5,342.6 611.0,342.3 611.4,342.2 611.9,342.2 612.4,342.1 613.9,342.0 614.4,342.0 614.9,341.9 615.4,341.7 615.9,341.6 617.3,341.6 617.8,341.7 618.3,341.8 618.8,341.9 620.8,341.9 621.3,342.0 621.8,342.1 622.3,342.4 622.8,342.6 624.2,342.9 624.7,343.1 625.2,343.2 625.7,343.4 626.2,343.4 627.7,343.4 628.2,343.3 628.7,343.4 629.1,343.5 629.6,343.6 631.1,343.8 631.6,343.9 632.1,343.9 632.6,344.0 633.1,343.9 634.6,343.8 635.0,343.6 635.5,343.4 636.0,343.1 636.5,342.8 638.0,342.6 638.5,342.4 639.0,342.2 639.5,341.9 640.0,341.7 641.4,341.5 641.9,341.3 642.4,341.2 642.9,341.0 643.4,340.8 645.4,340.5 645.9,340.3 646.4,340.0 646.8,339.8 648.3,339.5 648.8,339.1 649.3,338.8 649.8,338.5 650.3,338.2 651.8,337.9 652.3,337.5 652.7,337.1 653.2,336.6 653.7,336.2 655.7,335.8 656.2,335.5 656.7,335.3 657.2,335.0 658.6,334.6 659.1,334.3 659.6,334.0 660.1,333.6 660.6,333.2 662.1,332.8 663.1,332.5 663.6,332.2 664.1,332.0 665.5,331.7 666.0,331.3 666.5,330.8 667.0,330.2 667.5,329.7 669.0,329.0 669.5,328.4 670.0,327.8 670.5,327.2 670.9,326.6 672.4,325.9 672.9,325.3 673.4,324.7 673.9,324.0 674.4,323.4 675.9,322.8 676.4,322.2 676.8,321.6 677.3,321.0 677.8,320.3 679.3,319.6 679.8,319.0 680.3,318.4 680.8,317.9 681.3,317.4 682.7,317.0 683.2,316.6 683.7,316.2 684.2,315.9 684.7,315.6 686.2,315.4 686.7,315.2 687.2,315.0 687.7,315.0 688.2,314.9 689.6,314.8 690.1,314.7 690.6,314.5 691.1,314.4 691.6,314.2 693.6,313.9 694.1,313.7 694.5,313.4 695.0,313.1 696.5,312.9 697.0,312.6 697.5,312.4 698.0,312.1 698.5,311.8 700.0,311.5 700.4,311.2 700.9,310.9 701.4,310.7 701.9,310.6 703.4,310.4 703.9,310.3 704.4,310.2 704.9,310.1 705.4,310.0 706.8,309.9 707.3,309.9 707.8,309.8 708.3,309.8 708.8,309.8 710.3,309.8 710.8,309.7 711.3,309.6 711.8,309.4 712.2,309.2 713.7,309.0 714.2,308.9 714.7,308.8 715.2,308.8 715.7,308.8 717.2,308.9 717.7,309.0 718.1,309.1 718.6,309.2 719.1,309.3 720.6,309.1 721.1,308.9 721.6,308.7 722.1,308.4 722.6,308.0 724.1,307.6 724.5,307.4 725.0,307.0 725.5,306.7 726.0,306.3 727.5,305.8 728.0,305.3 728.5,304.9 729.0,304.5 729.5,304.3 730.9,304.0 731.4,303.8 731.9,303.5 732.9,303.2 734.4,302.9 734.9,302.6 735.4,302.3 735.9,302.0 736.3,301.6 737.8,301.2 738.3,300.8 738.8,300.3 739.3,299.8 739.8,299.3 741.3,298.6 741.8,297.9 742.2,297.2 742.7,296.5 743.2,295.7 744.7,294.6 745.2,293.4 745.7,292.4 746.2,291.4 746.7,290.4 748.6,289.3 749.1,288.2 749.6,287.2 750.1,286.1 752.1,285.1 752.6,284.1 753.1,282.9 753.6,281.6 755.0,280.2 755.5,278.8 756.0,277.3 756.5,275.8 757.0,274.4 759.0,273.0 759.5,271.5 759.9,270.1 760.4,268.6 761.9,267.2 762.4,265.8 762.9,264.5 763.4,263.3 763.9,262.2 765.4,261.1 765.8,259.8 766.3,258.5 766.8,257.0 767.3,255.6 768.8,254.1 769.3,252.6 769.8,251.1 770.3,249.5 770.8,248.0 772.2,246.5 772.7,245.1 773.2,243.7 773.7,242.3 774.2,241.0 776.2,239.6 776.7,238.3 777.2,237.0 777.6,235.8 779.1,234.6 779.6,233.3 780.1,232.1 780.6,230.9 781.1,230.0 782.6,228.9 783.1,227.6 783.6,226.2 784.0,224.9 784.5,223.9 786.0,223.3 786.5,222.6 787.0,221.9 787.5,221.1 788.0,220.2 789.5,219.3 789.9,218.4 790.4,217.7 790.9,217.1 791.4,216.4 792.9,215.9 793.4,215.3 793.9,214.8 794.4,214.4 796.3,214.0 796.8,213.8 797.3,213.6 797.8,213.4 798.3,213.1 799.8,212.7 800.3,212.3 800.8,211.9 801.3,211.6 801.7,211.4 803.2,211.3 803.7,211.2 804.2,211.2 804.7,211.3 805.2,211.4 806.7,211.5 807.2,211.6 807.6,211.6 808.1,211.5 808.6,211.5 810.1,211.4 810.6,211.3 811.1,211.2 811.6,211.0 812.1,210.8 813.5,210.5 814.0,210.2 814.5,209.8 815.0,209.5 815.5,209.2 817.0,208.8 817.5,208.7 818.0,208.6 818.5,208.5 819.0,208.3 820.4,207.9 820.9,207.1 821.4,206.3 821.9,205.4 822.4,204.6 824.4,203.8 824.9,202.9 825.3,202.1 825.8,201.3 827.3,200.4 827.8,199.5 828.3,198.4 828.8,197.3 829.3,196.1 830.8,194.9 831.2,193.6 831.7,192.2 832.2,190.7 832.7,189.2 834.2,187.5 834.7,185.9 835.7,184.5 836.2,183.2 837.6,182.0 838.1,180.6 838.6,179.2 839.1,177.8 839.6,176.3 841.1,174.8 841.6,173.2 842.1,171.5 843.1,169.8 844.5,168.1 845.0,166.4 845.5,164.8 846.0,163.4 846.5,162.1 848.0,161.0 848.5,159.9 849.0,158.8 849.4,158.0 849.9,157.1 851.4,156.5 851.9,156.0 852.4,155.6 852.9,155.2 853.4,154.8 854.9,154.4 855.3,154.2 855.8,153.9 856.3,153.6 856.8,153.5 858.3,153.5 858.8,153.4 859.3,153.2 859.8,152.9 860.3,152.5 861.7,151.9 862.2,151.4 862.7,150.8 863.2,150.3 863.7,149.8 865.2,149.4 865.7,149.1 866.2,148.7 866.7,148.3 867.1,147.9 868.6,147.4 869.1,146.9 869.6,146.5 870.1,146.3 870.6,146.0 872.6,145.6 873.0,145.3 873.5,145.0 874.0,144.7 875.5,144.3 876.0,143.8 876.5,143.3 877.0,142.8 877.5,142.3 878.9,142.1 879.4,141.9 879.9,141.8 880.4,141.5 880.9,141.1 882.4,140.4 882.9,139.8 883.4,139.3 883.9,138.8 884.4,138.4 885.8,138.1 886.3,137.5 886.8,136.9 887.3,136.2 887.8,135.4 889.3,134.5 889.8,133.6 890.3,132.6 890.8,131.8 891.2,131.0 892.7,130.3 893.2,129.3 893.7,128.5 894.2,127.8 894.7,127.3 896.2,126.8 896.7,126.5 897.1,126.2 897.6,126.0 898.1,125.8 899.6,125.8 900.1,125.8 900.6,125.9 901.1,125.9 901.6,125.9 903.0,125.8 903.5,125.8 904.0,125.6 904.5,125.2 905.0,124.6 906.5,124.1 907.0,123.6 907.5,123.2 908.0,122.8 908.5,122.5 909.9,122.1 910.4,121.7 910.9,121.2 911.4,120.8 911.9,120.3 913.4,119.7 913.9,119.0 914.4,118.2 915.3,117.4 916.8,116.6 917.3,115.7 917.8,114.8 918.3,113.9 918.8,112.8 920.3,111.7 920.7,110.5 921.2,109.4 921.7,108.2 922.2,107.2 923.7,106.1 924.2,105.2 924.7,104.5 925.2,103.8 925.7,103.2 927.1,102.5 927.6,101.8 928.6,101.3 929.1,100.8 930.6,100.5 931.1,100.3 932.1,100.1 932.5,100.0 934.0,99.7 934.5,99.3 935.0,98.9 936.0,98.3 937.5,97.9 938.0,97.4 938.4,96.9 938.9,96.5 939.4,96.2 941.4,95.8 941.9,95.5 942.4,95.4 942.9,95.4 944.3,95.1 944.8,94.6 945.3,94.0 945.8,93.3 946.3,92.5 947.8,91.6 948.3,90.7 948.8,89.8 949.3,88.9 949.8,88.0 951.2,86.9 951.7,85.9 952.2,84.8 952.7,83.8 953.2,82.9 955.2,82.2 955.7,81.5 956.2,81.0 956.6,80.5 958.1,79.9 958.6,79.4 959.1,78.9 959.6,78.5 960.1,78.0 961.6,77.4 962.1,76.8 962.5,76.2 963.0,75.4 963.5,74.9 965.0,75.0 965.5,75.2 966.0,75.4 966.5,75.8 967.0,76.0 968.4,76.2 968.9,76.3 969.4,76.4 969.9,76.5 970.4,76.6 971.9,76.6 972.4,76.6 972.9,76.4 973.4,76.3 973.9,76.1 975.3,75.7 975.8,75.4 976.3,75.2 976.8,75.0 977.3,74.9 978.8,75.3 979.3,75.7 979.8,76.1 980.2,76.4 980.7,76.6 982.2,76.6 982.7,76.9 983.2,77.1 983.7,77.7 985.7,78.5 986.1,79.4 986.6,80.3 987.1,81.3 987.6,82.3 989.1,83.2 989.6,84.0 990.1,84.6 990.6,85.1 991.1,85.4 992.5,85.6 993.0,85.9 993.5,86.3 994.0,86.5 994.5,86.7 996.0,87.0 996.5,87.5 997.0,87.8 997.5,88.0 997.9,88.2 999.4,87.8 999.9,87.0 1000.4,86.1 1000.9,85.1 1001.4,83.9 1003.4,82.6 1003.9,81.4 1004.3,80.0 1004.8,78.6 1006.3,77.0 1006.8,75.5 1007.3,74.3 1007.8,73.4 1008.3,72.5 1009.8,71.7 1010.2,71.0 1010.7,70.5 1011.2,70.1 1011.7,69.8 1013.2,69.6 1013.7,69.3 1014.2,68.6 1015.2,68.0 1016.6,67.4 1017.1,66.9 1017.6,66.6 1018.1,66.6 1018.6,66.7 1020.1,66.8 1020.6,66.7 1021.1,66.5 1021.6,66.3 1023.5,66.1 1024.0,65.9 1024.5,65.9 1025.0,65.9 1025.5,66.1 1027.0,66.4 1027.5,66.7 1027.9,67.1 1028.4,67.8 1028.9,68.4 1030.4,69.1 1030.9,69.9 1031.4,70.6 1031.9,71.3 1032.4,71.9 1033.8,72.7 1034.3,73.7 1034.8,74.7 1035.3,75.7 1035.8,76.6 1037.3,77.4 1037.8,78.1 1038.3,78.7 1038.8,79.1 1039.3,79.6 1040.7,80.0 1041.2,80.6 1041.7,81.4 1042.2,82.3 1042.7,82.9 1044.2,83.3 1044.7,83.5 1045.2,83.8 1045.6,84.1 1046.1,84.5 1047.6,85.0 1048.1,85.5 1048.6,85.9 1049.1,86.3 1049.6,86.6 1051.5,87.1 1052.0,87.6 1052.5,88.0 1053.0,88.2 1054.5,88.2 1055.0,88.3 1055.5,88.6 1056.0,88.8 1056.5,89.1 1057.9,89.3 1058.4,89.6 1058.9,89.9 1059.4,90.2 1059.9,90.5 1061.4,90.8 1061.9,91.1 1062.4,91.4 1062.9,91.7 1063.4,92.0 1064.8,92.3 1065.3,92.5 1065.8,92.8 1066.3,93.0 1066.8,93.2 1068.3,93.5 1068.8,93.6 1069.3,93.7 1069.7,93.7 1070.2,93.7 1071.7,93.6 1072.2,93.5 1072.7,93.5 1073.2,93.7 1073.7,94.1 1075.2,94.5 1075.6,95.0 1076.1,95.6 1076.6,96.0 1077.1,96.5 1078.6,97.1 1079.1,97.9 1079.6,98.7 1080.1,99.5 1080.6,100.1 1082.0,100.3 1082.5,100.4 1083.0,100.5 1083.5,100.6 1084.0,100.8 1085.5,101.0 1086.0,101.3 1086.5,101.6 1087.0,102.0 1087.4,102.4 1088.9,103.2 1089.4,104.0 1089.9,104.7 1090.4,105.4 1090.9,106.1 1092.4,106.8 1092.9,107.5 1093.3,108.2 1094.3,108.6 1095.8,108.9 1096.3,109.1 1096.8,109.5 1097.3,109.9 1097.8,110.3 1099.2,110.7 1099.7,111.2 1100.2,111.6 1100.7,112.0 1101.2,112.4 1102.7,112.9 1103.2,113.5 1103.7,114.1 1104.2,114.7 1104.7,115.5 1106.1,116.3 1106.6,117.3 1107.1,118.2 1108.1,118.9 1109.6,119.6 1110.1,120.2 1110.6,121.0 1111.5,121.8 1113.0,122.4 1113.5,122.9 1114.0,123.1 1114.5,123.1 1115.0,123.0 1116.5,122.7 1117.0,122.3 1117.4,121.9 1117.9,121.7 1118.4,121.4 1120.4,121.0 1120.9,120.5 1121.4,119.9" fill="none" stroke="#008000" stroke-width="2.08" stroke-linejoin="round" stroke-linecap="square"/>
<polyline points="151.2,427.1 152.6,426.6 153.1,426.0 153.6,425.3 154.1,424.8 154.6,424.5 156.6,424.4 157.1,424.4 157.6,424.5 158.1,424.5 159.5,424.4 160.0,424.2 160.5,424.1 161.0,424.1 161.5,424.1 163.0,424.1 163.5,424.1 164.0,424.1 164.5,424.0 164.9,423.9 166.4,423.7 166.9,423.5 167.4,423.3 167.9,423.2 168.4,422.9 169.9,422.7 170.4,422.6 170.8,422.4 171.3,422.2 171.8,421.8 173.3,421.2 173.8,420.4 174.3,419.6 174.8,418.9 175.3,418.1 176.7,417.4 177.2,416.7 177.7,416.0 178.2,415.3 178.7,414.6 180.2,414.1 180.7,413.6 181.2,413.2 181.7,412.9 182.2,412.5 183.6,412.0 184.1,411.6 184.6,411.1 185.1,410.5 185.6,410.1 187.1,409.9 187.6,409.7 188.1,409.5 188.5,409.3 189.0,409.1 190.5,409.0 191.0,409.0 191.5,409.0 192.0,408.9 192.5,408.8 194.0,408.6 194.4,408.4 194.9,408.1 195.9,407.9 197.4,407.4 197.9,406.9 198.4,406.4 198.9,406.0 199.4,405.5 200.8,405.2 201.3,405.0 201.8,404.9 202.3,405.0 202.8,405.0 204.3,404.9 204.8,404.7 205.3,404.5 205.8,404.5 206.2,404.5 207.7,404.6 208.2,404.8 208.7,405.0 209.2,405.1 211.2,405.1 211.7,405.2 212.1,405.2 212.6,405.2 214.6,405.2 215.1,405.2 215.6,405.4 216.1,405.6 216.6,405.8 218.0,406.0 218.5,406.2 219.0,406.5 219.5,406.8 220.0,407.1 222.0,407.4 222.5,407.7 223.0,408.0 223.5,408.2 224.9,408.4 225.4,408.7 225.9,408.9 226.4,409.1 226.9,409.3 228.4,409.6 228.9,409.8 229.4,410.1 229.9,410.5 230.3,410.9 231.8,411.3 232.3,411.8 232.8,412.1 233.3,412.5 233.8,412.8 235.8,413.1 236.2,413.4 236.7,413.6 237.2,413.8 238.7,414.0 239.2,414.3 239.7,414.6 240.2,414.9 240.7,415.3 242.1,415.9 242.6,416.4 243.1,417.0 243.6,417.5 244.1,418.2 245.6,418.9 246.1,419.7 246.6,420.2 247.1,420.7 247.6,421.2 249.0,421.7 249.5,422.2 250.0,422.8 250.5,423.5 251.0,424.0 252.5,424.3 253.0,424.6 253.5,424.7 253.9,424.7 254.4,424.7 255.9,424.6 256.4,424.3 256.9,424.1 257.4,423.7 259.4,423.3 259.8,422.6 260.3,422.0 260.8,421.3 261.3,420.6 262.8,419.7 263.3,418.6 263.8,417.6 264.3,416.7 264.8,415.9 266.2,415.0 266.7,414.2 267.2,413.3 267.7,412.3 268.2,411.3 269.7,410.4 270.2,409.8 270.7,409.2 271.2,408.6 271.6,408.1 273.1,407.6 273.6,407.0 274.1,406.5 274.6,405.9 275.1,405.4 276.6,405.0 277.1,404.6 277.6,404.1 278.0,403.7 278.5,403.2 280.0,402.8 280.5,402.4 281.0,402.1 281.5,401.8 282.0,401.5 283.5,401.2 283.9,401.0 284.4,400.7 284.9,400.4 285.4,400.1 287.4,399.8 287.9,399.6 288.4,399.3 288.9,399.0 290.3,398.7 290.8,398.6 291.3,398.5 291.8,398.3 292.3,398.3 293.8,398.2 294.3,398.1 294.8,398.0 295.3,397.9 295.7,397.8 297.2,397.7 297.7,397.6 298.2,397.5 298.7,397.3 299.2,397.1 300.7,396.8 301.2,396.5 301.6,396.3 302.1,396.1 302.6,395.9 304.6,395.5 305.1,395.0 305.6,394.5 306.1,394.0 307.5,393.6 308.0,393.2 308.5,392.7 309.0,392.2 309.5,391.7 311.0,391.1 311.5,390.5 312.0,389.9 312.5,389.2 313.0,388.5 314.4,387.7 314.9,387.0 315.4,386.4 315.9,385.7 316.4,385.0 317.9,384.2 318.4,383.3 318.9,382.4 319.3,381.5 319.8,380.7 321.3,379.8 321.8,379.0 322.3,378.3 322.8,377.6 323.3,376.8 324.8,376.0 325.2,375.2 325.7,374.5 326.2,373.6 326.7,372.8 328.2,372.0 328.7,371.4 329.2,370.7 329.7,370.1 330.2,369.5 331.6,368.8 332.1,368.1 332.6,367.4 333.1,366.7 333.6,366.0 335.6,365.5 336.1,365.0 336.6,364.7 337.1,364.3 338.5,363.8 339.0,363.3 339.5,363.0 340.0,362.6 340.5,362.3 342.0,362.3 342.5,362.1 343.0,361.9 343.4,361.6 343.9,361.4 345.4,361.3 345.9,361.2 346.4,361.1 346.9,361.2 347.4,361.3 348.9,361.5 349.3,361.8 349.8,362.1 350.3,362.4 350.8,362.6 352.3,362.9 352.8,363.1 353.3,363.5 353.8,363.7 354.3,363.8 355.7,363.8 356.2,363.7 356.7,363.6 357.2,363.2 357.7,362.8 359.2,362.0 359.7,361.3 360.2,360.7 360.7,360.1 361.1,359.6 362.6,358.8 363.1,357.8 363.6,356.6 364.1,355.3 364.6,354.1 366.1,352.8 366.6,351.4 367.0,350.0 367.5,348.6 368.0,347.2 369.5,345.7 370.0,344.1 370.5,342.4 371.0,340.7 371.5,339.0 372.9,337.3 373.4,335.7 373.9,334.1 374.9,332.7 376.4,331.4 376.9,330.5 377.4,329.7 377.9,328.9 378.4,328.1 379.8,327.0 380.3,326.0 380.8,325.1 381.3,324.3 381.8,323.5 383.3,322.6 383.8,321.7 384.3,320.7 384.7,319.7 385.2,318.7 386.7,318.1 387.2,317.7 387.7,317.2 388.2,316.8 390.2,316.4 390.7,315.8 391.1,315.5 391.6,315.1 392.1,314.8 393.6,314.8 394.1,314.9 394.6,314.8 395.1,314.7 395.6,314.9 397.0,315.3 397.5,316.0 398.0,316.9 398.5,317.8 399.0,319.0 401.0,320.3 401.5,321.6 402.0,322.9 402.5,324.4 403.9,326.1 404.4,327.8 404.9,329.1 405.4,330.4 405.9,331.6 407.4,332.5 407.9,333.5 408.4,334.4 408.8,335.2 409.3,336.1 410.8,337.0 411.3,337.7 411.8,338.3 412.3,338.7 412.8,338.9 414.3,339.0 414.7,338.9 415.2,338.8 415.7,338.7 416.2,338.5 418.2,338.5 418.7,338.3 419.2,338.0 419.7,337.5 421.1,336.8 421.6,335.8 422.1,334.8 422.6,333.8 423.1,332.9 424.6,332.1 425.1,331.6 425.6,331.3 426.1,330.9 426.5,330.7 428.0,330.4 428.5,330.0 429.0,329.3 429.5,328.5 430.0,327.6 431.5,326.8 432.0,326.0 432.4,325.2 432.9,324.4 433.4,323.4 434.9,322.3 435.4,320.7 435.9,319.2 436.4,317.7 436.9,316.3 438.3,315.0 438.8,313.7 439.3,312.1 439.8,310.6 440.3,309.2 441.8,307.9 442.3,306.7 442.8,305.6 443.3,304.6 445.2,303.3 445.7,302.0 446.2,300.8 446.7,300.0 447.2,299.5 448.7,299.4 449.2,299.3 449.7,299.3 450.2,299.2 450.6,299.4 452.1,299.6 452.6,300.1 453.1,300.7 453.6,301.8 454.1,303.1 455.6,304.7 456.1,306.6 456.5,308.7 457.0,311.0 457.5,313.3 459.0,315.6 459.5,318.2 460.0,321.2 460.5,324.4 461.0,327.7 462.4,331.0 462.9,334.3 463.4,337.4 463.9,340.1 464.4,342.3 466.4,344.4 466.9,346.4 467.4,348.1 467.9,349.7 469.3,351.2 469.8,352.8 470.3,354.3 470.8,356.0 471.3,357.2 472.8,358.4 473.3,359.3 473.8,360.2 474.2,361.0 474.7,361.9 476.7,362.4 477.2,362.7 477.7,362.2 478.2,361.5 479.7,360.4 480.1,359.1 480.6,358.0 481.1,357.3 481.6,356.7 483.6,356.0 484.1,355.5 484.6,354.7 485.1,353.9 486.5,353.5 487.0,353.2 487.5,352.5 488.0,351.5 488.5,350.4 490.0,349.2 490.5,347.9 491.0,346.4 491.5,344.9 491.9,343.2 493.4,341.7 493.9,340.2 494.4,338.9 494.9,337.6 495.4,336.2 496.9,334.9 497.4,333.5 497.8,332.3 498.3,331.0 498.8,329.7 500.3,328.2 500.8,327.3 501.3,326.5 501.8,325.8 502.3,324.9 503.8,323.7 504.2,322.4 504.7,321.3 505.2,320.5 505.7,319.9 507.2,319.3 507.7,318.7 508.2,318.2 508.7,317.9 509.2,317.7 510.6,317.5 511.1,317.4 511.6,317.5 512.1,317.8 512.6,318.1 514.6,318.3 515.1,318.5 515.6,318.7 516.0,318.8 517.5,319.0 518.0,319.5 518.5,320.0 519.0,320.4 519.5,321.0 521.0,321.6 521.5,322.7 521.9,324.1 522.4,325.9 522.9,327.7 524.4,329.0 524.9,330.3 525.4,331.7 525.9,333.2 526.4,334.5 527.8,335.6 528.3,336.7 528.8,337.8 529.3,338.8 529.8,339.9 531.3,341.1 531.8,342.4 532.3,343.8 532.8,345.3 533.3,347.0 534.7,348.2 535.2,349.2 535.7,350.1 536.2,351.1 536.7,351.8 538.2,352.1 538.7,352.2 539.2,351.9 539.6,351.3 540.1,350.6 541.6,350.5 542.1,350.5 542.6,350.4 543.1,350.1 543.6,349.9 545.1,349.8 545.5,349.6 546.0,349.2 546.5,348.3 547.0,347.4 548.5,346.3 549.0,345.3 549.5,344.1 550.0,342.8 550.5,341.3 551.9,340.2 552.4,338.9 552.9,337.7 553.9,336.3 555.4,335.0 555.9,334.1 556.4,333.2 556.9,332.8 557.4,332.7 558.8,333.1 559.3,333.2 559.8,333.3 560.3,333.4 560.8,333.4 562.3,333.6 562.8,333.9 563.3,334.2 563.7,334.8 564.2,335.9 565.7,337.0 566.2,338.3 566.7,339.5 567.2,340.8 567.7,342.1 569.6,343.5 570.1,345.0 570.6,346.5 571.1,348.1 573.1,349.7 573.6,351.4 574.1,353.0 574.6,354.5 576.0,355.3 576.5,355.8 577.0,355.8 577.5,355.8 578.0,355.7 580.0,355.8 580.5,356.1 581.0,356.1 581.4,355.9 582.9,355.4 583.4,354.7 583.9,354.0 584.4,353.1 584.9,352.2 586.4,351.2 586.9,350.1 587.3,348.8 587.8,347.4 588.3,346.1 589.8,344.9 590.3,343.6 590.8,342.4 591.3,341.3 591.8,340.4 593.2,339.5 593.7,338.9 594.2,338.3 594.7,337.8 595.2,337.3 597.2,337.0 597.7,336.7 598.2,336.2 598.7,335.9 600.1,336.0 600.6,336.2 601.1,336.6 601.6,337.1 602.1,337.5 603.6,338.0 604.1,338.6 604.6,339.5 605.0,340.4 605.5,341.4 607.0,342.3 607.5,343.2 608.0,343.9 608.5,344.3 609.0,344.6 610.5,344.8 611.0,345.2 611.4,345.6 611.9,346.0 612.4,346.4 613.9,346.7 614.4,346.9 614.9,347.0 615.4,347.2 615.9,347.2 617.3,347.2 617.8,347.1 618.3,347.0 618.8,346.7 620.8,346.3 621.3,346.0 621.8,345.7 622.3,345.3 622.8,344.9 624.2,344.3 624.7,343.8 625.2,343.3 625.7,342.9 626.2,342.5 627.7,342.1 628.2,341.8 628.7,341.6 629.1,341.4 629.6,341.2 631.1,341.1 631.6,341.1 632.1,341.0 632.6,340.9 633.1,340.7 634.6,340.4 635.0,340.1 635.5,339.8 636.0,339.3 636.5,339.0 638.0,338.9 638.5,338.8 639.0,338.7 639.5,338.6 640.0,338.5 641.4,338.6 641.9,338.8 642.4,339.1 642.9,339.0 643.4,339.0 645.4,339.0 645.9,338.8 646.4,338.5 646.8,338.2 648.3,337.7 648.8,337.1 649.3,336.5 649.8,336.0 650.3,335.6 651.8,335.1 652.3,334.5 652.7,334.0 653.2,333.5 653.7,333.1 655.7,332.7 656.2,332.2 656.7,331.7 657.2,331.2 658.6,330.6 659.1,330.0 659.6,329.3 660.1,328.4 660.6,327.3 662.1,326.5 663.1,325.9 663.6,325.5 664.1,325.2 665.5,324.8 666.0,324.4 666.5,323.9 667.0,323.4 667.5,322.8 669.0,322.0 669.5,321.2 670.0,320.4 670.5,319.8 670.9,319.1 672.4,318.4 672.9,317.5 673.4,316.6 673.9,315.8 674.4,315.0 675.9,314.3 676.4,313.7 676.8,313.2 677.3,312.7 677.8,312.3 679.3,311.9 679.8,311.5 680.3,310.9 680.8,310.3 681.3,309.7 682.7,309.2 683.2,308.7 683.7,308.5 684.2,308.5 684.7,308.5 686.2,308.8 686.7,309.2 687.2,309.7 687.7,310.2 688.2,310.8 689.6,311.3 690.1,311.9 690.6,312.4 691.1,312.9 691.6,313.3 693.6,313.5 694.1,313.7 694.5,313.7 695.0,313.6 696.5,313.4 697.0,313.3 697.5,313.3 698.0,313.3 698.5,313.3 700.0,313.3 700.4,313.2 700.9,313.1 701.4,312.9 701.9,312.7 703.4,312.3 703.9,311.8 704.4,311.1 704.9,310.5 705.4,309.8 706.8,309.1 707.3,308.5 707.8,307.8 708.3,307.2 708.8,306.7 710.3,306.2 710.8,305.8 711.3,305.5 711.8,305.2 712.2,304.9 713.7,304.6 714.2,304.4 714.7,304.3 715.2,304.2 715.7,304.2 717.2,304.5 717.7,304.8 718.1,305.2 718.6,305.6 719.1,305.8 720.6,306.0 721.1,306.1 721.6,306.2 722.1,306.2 722.6,306.2 724.1,306.2 724.5,306.3 725.0,306.3 725.5,306.1 726.0,305.9 727.5,305.4 728.0,304.8 728.5,304.2 729.0,303.8 729.5,303.6 730.9,303.4 731.4,303.1 731.9,302.7 732.9,302.2 734.4,301.5 734.9,300.6 735.4,299.8 735.9,298.8 736.3,297.7 737.8,296.6 738.3,295.6 738.8,294.5 739.3,293.4 739.8,292.4 741.3,291.1 741.8,289.6 742.2,288.1 742.7,286.8 743.2,285.3 744.7,283.2 745.2,281.5 745.7,280.1 746.2,278.6 746.7,277.0 748.6,275.0 749.1,273.1 749.6,271.2 750.1,269.5 752.1,268.0 752.6,266.6 753.1,265.1 753.6,263.5 755.0,261.7 755.5,259.8 756.0,258.0 756.5,256.1 757.0,254.3 759.0,252.5 759.5,250.6 759.9,249.1 760.4,247.7 761.9,246.3 762.4,244.9 762.9,243.7 763.4,243.4 763.9,243.0 765.4,242.1 765.8,241.0 766.3,240.0 766.8,239.1 767.3,238.1 768.8,237.0 769.3,235.6 769.8,234.1 770.3,232.5 770.8,230.9 772.2,229.6 772.7,228.6 773.2,227.6 773.7,226.7 774.2,225.8 776.2,224.9 776.7,224.1 777.2,223.3 777.6,222.5 779.1,221.5 779.6,220.4 780.1,219.2 780.6,218.0 781.1,216.6 782.6,214.8 783.1,213.1 783.6,211.4 784.0,209.8 784.5,208.7 786.0,208.5 786.5,208.3 787.0,208.2 787.5,208.0 788.0,207.9 789.5,207.6 789.9,207.3 790.4,206.9 790.9,206.5 791.4,206.2 792.9,205.9 793.4,205.7 793.9,205.6 794.4,205.5 796.3,205.6 796.8,206.1 797.3,206.7 797.8,207.5 798.3,208.3 799.8,208.9 800.3,209.8 800.8,210.7 801.3,211.8 801.7,212.9 803.2,213.8 803.7,213.9 804.2,214.2 804.7,214.5 805.2,214.9 806.7,215.2 807.2,215.5 807.6,215.9 808.1,216.1 808.6,216.4 810.1,216.6 810.6,216.7 811.1,216.7 811.6,216.5 812.1,216.1 813.5,215.4 814.0,214.3 814.5,213.0 815.0,211.5 815.5,210.0 817.0,208.8 817.5,207.6 818.0,206.4 818.5,205.2 819.0,203.8 820.4,202.1 820.9,200.3 821.4,198.4 821.9,196.4 822.4,194.4 824.4,192.3 824.9,190.3 825.3,188.3 825.8,186.4 827.3,184.4 827.8,182.3 828.3,180.1 828.8,177.9 829.3,175.7 830.8,173.7 831.2,171.9 831.7,170.2 832.2,168.5 832.7,166.8 834.2,165.0 834.7,163.1 835.7,161.5 836.2,160.1 837.6,158.7 838.1,157.4 838.6,156.3 839.1,155.2 839.6,154.3 841.1,153.2 841.6,152.0 842.1,150.7 843.1,149.2 844.5,147.8 845.0,146.4 845.5,145.1 846.0,144.4 846.5,144.1 848.0,144.1 848.5,144.0 849.0,144.0 849.4,144.1 849.9,144.1 851.4,144.5 851.9,145.1 852.4,146.1 852.9,147.2 853.4,148.0 854.9,148.8 855.3,149.6 855.8,150.4 856.3,151.0 856.8,151.7 858.3,152.6 858.8,153.5 859.3,154.4 859.8,155.1 860.3,155.8 861.7,156.1 862.2,156.4 862.7,156.5 863.2,156.1 863.7,155.6 865.2,154.8 865.7,154.1 866.2,153.4 866.7,152.6 867.1,151.8 868.6,150.3 869.1,148.6 869.6,146.9 870.1,145.4 870.6,143.9 872.6,142.4 873.0,141.0 873.5,139.7 874.0,138.5 875.5,136.9 876.0,134.9 876.5,133.0 877.0,131.3 877.5,129.6 878.9,128.5 879.4,127.8 879.9,127.2 880.4,126.6 880.9,126.0 882.4,125.3 882.9,124.8 883.4,124.5 883.9,124.3 884.4,124.2 885.8,124.4 886.3,124.8 886.8,125.3 887.3,125.5 887.8,125.4 889.3,125.1 889.8,124.7 890.3,124.2 890.8,123.8 891.2,123.6 892.7,123.6 893.2,123.8 893.7,124.0 894.2,124.4 894.7,124.9 896.2,125.2 896.7,125.2 897.1,125.2 897.6,125.3 898.1,125.7 899.6,126.3 900.1,126.8 900.6,127.2 901.1,127.5 901.6,127.6 903.0,127.2 903.5,126.7 904.0,125.9 904.5,124.8 905.0,123.7 906.5,123.0 907.0,122.5 907.5,122.2 908.0,121.9 908.5,121.5 909.9,120.6 910.4,119.6 910.9,118.5 911.4,117.1 911.9,115.7 913.4,114.2 913.9,112.8 914.4,111.2 915.3,109.5 916.8,107.5 917.3,105.2 917.8,102.9 918.3,100.5 918.8,98.1 920.3,95.8 920.7,93.8 921.2,92.0 921.7,90.5 922.2,89.5 923.7,88.5 924.2,87.4 924.7,86.4 925.2,85.4 925.7,84.4 927.1,83.5 927.6,83.0 928.6,82.9 929.1,83.2 930.6,83.9 931.1,84.8 932.1,86.0 932.5,87.2 934.0,88.1 934.5,89.1 935.0,90.3 936.0,91.5 937.5,92.8 938.0,94.2 938.4,95.7 938.9,97.2 939.4,98.6 941.4,99.5 941.9,100.5 942.4,101.4 942.9,102.4 944.3,102.8 944.8,102.8 945.3,102.6 945.8,102.1 946.3,101.4 947.8,100.2 948.3,98.5 948.8,96.4 949.3,93.8 949.8,91.1 951.2,87.9 951.7,84.6 952.2,81.5 952.7,78.4 953.2,75.4 955.2,72.9 955.7,70.2 956.2,67.7 956.6,65.3 958.1,62.6 958.6,60.1 959.1,58.2 959.6,56.4 960.1,54.6 961.6,52.5 962.1,50.9 962.5,49.5 963.0,48.2 963.5,47.7 965.0,48.6 965.5,50.1 966.0,52.3 966.5,55.3 967.0,58.3 968.4,61.2 968.9,64.6 969.4,68.1 969.9,71.6 970.4,74.8 971.9,77.8 972.4,80.3 972.9,82.7 973.4,84.8 973.9,86.8 975.3,88.8 975.8,90.6 976.3,92.2 976.8,93.7 977.3,95.3 978.8,98.1 979.3,100.5 979.8,102.7 980.2,104.5 980.7,105.4 982.2,104.7 982.7,103.6 983.2,101.9 983.7,100.0 985.7,98.8 986.1,97.5 986.6,96.0 987.1,94.5 987.6,93.1 989.1,91.6 989.6,90.3 990.1,88.9 990.6,87.5 991.1,86.0 992.5,84.4 993.0,83.1 993.5,81.9 994.0,80.8 994.5,79.7 996.0,78.7 996.5,76.9 997.0,75.1 997.5,73.4 997.9,71.8 999.4,70.3 999.9,69.2 1000.4,68.6 1000.9,68.2 1001.4,67.7 1003.4,66.5 1003.9,65.3 1004.3,64.0 1004.8,62.6 1006.3,60.9 1006.8,59.4 1007.3,58.4 1007.8,57.8 1008.3,57.5 1009.8,57.4 1010.2,57.6 1010.7,57.9 1011.2,58.2 1011.7,58.7 1013.2,59.4 1013.7,59.9 1014.2,60.4 1015.2,60.9 1016.6,61.4 1017.1,62.1 1017.6,63.0 1018.1,64.0 1018.6,64.8 1020.1,65.3 1020.6,65.8 1021.1,66.4 1021.6,67.2 1023.5,68.1 1024.0,69.2 1024.5,70.8 1025.0,72.4 1025.5,73.9 1027.0,74.9 1027.5,75.9 1027.9,76.8 1028.4,77.9 1028.9,78.9 1030.4,80.0 1030.9,81.0 1031.4,81.9 1031.9,82.7 1032.4,83.4 1033.8,84.6 1034.3,86.0 1034.8,87.3 1035.3,88.4 1035.8,89.2 1037.3,90.0 1037.8,90.9 1038.3,91.5 1038.8,91.9 1039.3,91.9 1040.7,92.0 1041.2,92.0 1041.7,92.1 1042.2,92.1 1042.7,91.9 1044.2,91.7 1044.7,91.2 1045.2,90.7 1045.6,90.3 1046.1,90.0 1047.6,90.0 1048.1,90.0 1048.6,90.0 1049.1,89.9 1049.6,89.8 1051.5,89.6 1052.0,89.1 1052.5,88.6 1053.0,88.0 1054.5,87.2 1055.0,86.6 1055.5,86.2 1056.0,86.1 1056.5,86.3 1057.9,86.6 1058.4,87.2 1058.9,87.8 1059.4,88.3 1059.9,88.8 1061.4,89.6 1061.9,90.6 1062.4,91.6 1062.9,92.7 1063.4,93.8 1064.8,94.6 1065.3,95.0 1065.8,95.5 1066.3,96.0 1066.8,96.6 1068.3,97.2 1068.8,97.7 1069.3,98.2 1069.7,98.7 1070.2,99.4 1071.7,100.0 1072.2,100.4 1072.7,100.8 1073.2,101.3 1073.7,102.0 1075.2,102.4 1075.6,102.8 1076.1,103.3 1076.6,103.7 1077.1,104.1 1078.6,104.6 1079.1,105.2 1079.6,105.8 1080.1,106.3 1080.6,106.4 1082.0,106.0 1082.5,105.8 1083.0,105.5 1083.5,105.3 1084.0,105.0 1085.5,104.8 1086.0,104.8 1086.5,105.0 1087.0,105.2 1087.4,105.5 1088.9,106.5 1089.4,107.6 1089.9,108.6 1090.4,109.4 1090.9,110.2 1092.4,111.2 1092.9,112.2 1093.3,113.0 1094.3,113.4 1095.8,113.6 1096.3,113.7 1096.8,113.8 1097.3,114.0 1097.8,114.3 1099.2,114.9 1099.7,116.3 1100.2,117.5 1100.7,118.5 1101.2,119.5 1102.7,120.9 1103.2,122.1 1103.7,123.3 1104.2,124.5 1104.7,125.8 1106.1,127.1 1106.6,128.1 1107.1,128.8 1108.1,129.3 1109.6,129.7 1110.1,130.2 1110.6,130.8 1111.5,131.5 1113.0,131.9 1113.5,132.3 1114.0,132.6 1114.5,132.5 1115.0,132.2 1116.5,131.3 1117.0,130.3 1117.4,128.8 1117.9,127.1 1118.4,125.3 1120.4,123.6 1120.9,121.5 1121.4,118.9" fill="none" stroke="#ff0000" stroke-width="2.08" stroke-linejoin="round" stroke-linecap="square"/>
<polyline points="277.1,414.5 277.6,414.3 278.0,414.1 278.5,413.9 280.0,413.8 280.5,413.6 281.0,413.5 281.5,413.3 282.0,413.2 283.5,413.1 283.9,412.9 284.4,412.7 284.9,412.6 285.4,412.4 287.4,412.3 287.9,412.1 288.4,412.0 288.9,411.9 290.3,411.7 290.8,411.6 291.3,411.5 291.8,411.3 292.3,411.2 293.8,411.1 294.3,410.9 294.8,410.8 295.3,410.7 295.7,410.6 297.2,410.5 297.7,410.4 298.2,410.2 298.7,410.1 299.2,409.9 300.7,409.7 301.2,409.6 301.6,409.4 302.1,409.2 302.6,409.1 304.6,408.9 305.1,408.6 305.6,408.4 306.1,408.2 307.5,408.1 308.0,407.9 308.5,407.7 309.0,407.5 309.5,407.4 311.0,407.2 311.5,407.0 312.0,406.8 312.5,406.6 313.0,406.4 314.4,406.3 314.9,406.1 315.4,405.9 315.9,405.8 316.4,405.6 317.9,405.5 318.4,405.3 318.9,405.1 319.3,404.9 319.8,404.7 321.3,404.5 321.8,404.3 322.3,404.1 322.8,403.9 323.3,403.6 324.8,403.4 325.2,403.2 325.7,402.9 326.2,402.7 326.7,402.5 328.2,402.3 328.7,402.1 329.2,401.9 329.7,401.6 330.2,401.4 331.6,401.2 332.1,401.0 332.6,400.7 333.1,400.5 333.6,400.3 335.6,400.0 336.1,399.8 336.6,399.6 337.1,399.4 338.5,399.1 339.0,398.9 339.5,398.7 340.0,398.5 340.5,398.3 342.0,398.1 342.5,397.9 343.0,397.7 343.4,397.5 343.9,397.3 345.4,397.0 345.9,396.8 346.4,396.6 346.9,396.4 347.4,396.2 348.9,396.0 349.3,395.9 349.8,395.7 350.3,395.4 350.8,395.2 352.3,395.0 352.8,394.8 353.3,394.6 353.8,394.4 354.3,394.2 355.7,394.0 356.2,393.8 356.7,393.5 357.2,393.2 357.7,393.0 359.2,392.6 359.7,392.3 360.2,392.0 360.7,391.7 361.1,391.4 362.6,391.0 363.1,390.6 363.6,390.2 364.1,389.8 364.6,389.5 366.1,389.1 366.6,388.7 367.0,388.3 367.5,387.9 368.0,387.5 369.5,387.0 370.0,386.6 370.5,386.1 371.0,385.7 371.5,385.2 372.9,384.7 373.4,384.2 373.9,383.8 374.9,383.3 376.4,382.8 376.9,382.3 377.4,381.9 377.9,381.4 378.4,381.0 379.8,380.5 380.3,380.0 380.8,379.5 381.3,378.9 381.8,378.4 383.3,377.8 383.8,377.2 384.3,376.7 384.7,376.1 385.2,375.5 386.7,374.9 387.2,374.3 387.7,373.7 388.2,373.1 390.2,372.6 390.7,372.0 391.1,371.4 391.6,370.8 392.1,370.2 393.6,369.6 394.1,369.1 394.6,368.6 395.1,368.1 395.6,367.7 397.0,367.3 397.5,366.9 398.0,366.5 398.5,366.2 399.0,365.8 401.0,365.5 401.5,365.2 402.0,364.9 402.5,364.5 403.9,364.3 404.4,364.0 404.9,363.7 405.4,363.4 405.9,363.1 407.4,362.7 407.9,362.4 408.4,362.0 408.8,361.6 409.3,361.3 410.8,360.9 411.3,360.5 411.8,360.2 412.3,359.8 412.8,359.4 414.3,359.1 414.7,358.7 415.2,358.4 415.7,358.1 416.2,357.7 418.2,357.5 418.7,357.2 419.2,356.8 419.7,356.5 421.1,356.2 421.6,355.8 422.1,355.5 422.6,355.1 423.1,354.7 424.6,354.4 425.1,354.0 425.6,353.6 426.1,353.2 426.5,352.9 428.0,352.5 428.5,352.1 429.0,351.7 429.5,351.3 430.0,350.8 431.5,350.4 432.0,350.0 432.4,349.6 432.9,349.1 433.4,348.7 434.9,348.2 435.4,347.8 435.9,347.3 436.4,346.8 436.9,346.3 438.3,345.8 438.8,345.3 439.3,344.8 439.8,344.2 440.3,343.7 441.8,343.2 442.3,342.7 442.8,342.3 443.3,341.8 445.2,341.3 445.7,340.8 446.2,340.3 446.7,339.8 447.2,339.4 448.7,339.0 449.2,338.6 449.7,338.2 450.2,337.9 450.6,337.5 452.1,337.2 452.6,336.9 453.1,336.5 453.6,336.3 454.1,336.1 455.6,335.9 456.1,335.7 456.5,335.5 457.0,335.4 457.5,335.2 459.0,335.0 459.5,335.0 460.0,335.0 460.5,335.0 461.0,335.1 462.4,335.1 462.9,335.1 463.4,335.1 463.9,335.1 464.4,335.0 466.4,335.0 466.9,334.9 467.4,334.9 467.9,334.8 469.3,334.7 469.8,334.7 470.3,334.7 470.8,334.6 471.3,334.6 472.8,334.6 473.3,334.6 473.8,334.6 474.2,334.6 474.7,334.7 476.7,334.6 477.2,334.6 477.7,334.6 478.2,334.5 479.7,334.5 480.1,334.4 480.6,334.4 481.1,334.3 481.6,334.3 483.6,334.2 484.1,334.1 484.6,334.0 485.1,333.9 486.5,333.8 487.0,333.7 487.5,333.6 488.0,333.5 488.5,333.3 490.0,333.1 490.5,332.9 491.0,332.7 491.5,332.5 491.9,332.3 493.4,332.1 493.9,331.9 494.4,331.7 494.9,331.4 495.4,331.2 496.9,330.9 497.4,330.7 497.8,330.5 498.3,330.3 498.8,330.1 500.3,329.9 500.8,329.7 501.3,329.6 501.8,329.5 502.3,329.3 503.8,329.2 504.2,329.0 504.7,328.8 505.2,328.7 505.7,328.6 507.2,328.5 507.7,328.4 508.2,328.3 508.7,328.2 509.2,328.1 510.6,328.0 511.1,328.0 511.6,328.0 512.1,328.0 512.6,328.0 514.6,327.9 515.1,327.9 515.6,327.9 516.0,327.9 517.5,328.0 518.0,328.1 518.5,328.1 519.0,328.2 519.5,328.3 521.0,328.3 521.5,328.4 521.9,328.5 522.4,328.7 522.9,328.9 524.4,329.0 524.9,329.2 525.4,329.4 525.9,329.6 526.4,329.8 527.8,329.9 528.3,330.2 528.8,330.4 529.3,330.6 529.8,330.7 531.3,330.9 531.8,331.1 532.3,331.4 532.8,331.6 533.3,331.9 534.7,332.1 535.2,332.4 535.7,332.6 536.2,332.8 536.7,332.9 538.2,333.0 538.7,333.1 539.2,333.1 539.6,333.1 540.1,333.1 541.6,333.1 542.1,333.2 542.6,333.2 543.1,333.1 543.6,333.1 545.1,333.1 545.5,333.1 546.0,333.0 546.5,332.9 547.0,332.9 548.5,332.8 549.0,332.7 549.5,332.7 550.0,332.7 550.5,332.6 551.9,332.6 552.4,332.6 552.9,332.6 553.9,332.5 555.4,332.5 555.9,332.4 556.4,332.3 556.9,332.3 557.4,332.3 558.8,332.4 559.3,332.5 559.8,332.5 560.3,332.5 560.8,332.6 562.3,332.6 562.8,332.7 563.3,332.9 563.7,333.0 564.2,333.2 565.7,333.4 566.2,333.6 566.7,333.7 567.2,333.9 567.7,334.1 569.6,334.3 570.1,334.4 570.6,334.7 571.1,334.9 573.1,335.2 573.6,335.4 574.1,335.7 574.6,335.9 576.0,336.1 576.5,336.3 577.0,336.4 577.5,336.7 578.0,336.9 580.0,337.1 580.5,337.4 581.0,337.6 581.4,337.9 582.9,338.1 583.4,338.4 583.9,338.6 584.4,338.9 584.9,339.1 586.4,339.3 586.9,339.4 587.3,339.6 587.8,339.8 588.3,340.0 589.8,340.2 590.3,340.3 590.8,340.5 591.3,340.7 591.8,340.8 593.2,340.9 593.7,341.0 594.2,341.1 594.7,341.2 595.2,341.3 597.2,341.4 597.7,341.5 598.2,341.5 598.7,341.5 600.1,341.5 600.6,341.5 601.1,341.6 601.6,341.6 602.1,341.6 603.6,341.6 604.1,341.5 604.6,341.3 605.0,341.2 605.5,341.1 607.0,341.0 607.5,340.9 608.0,340.8 608.5,340.8 609.0,340.7 610.5,340.6 611.0,340.6 611.4,340.5 611.9,340.5 612.4,340.4 613.9,340.4 614.4,340.3 614.9,340.2 615.4,340.1 615.9,340.0 617.3,339.9 617.8,339.8 618.3,339.7 618.8,339.7 620.8,339.6 621.3,339.5 621.8,339.5 622.3,339.4 622.8,339.4 624.2,339.3 624.7,339.3 625.2,339.2 625.7,339.2 626.2,339.1 627.7,339.1 628.2,339.1 628.7,339.1 629.1,339.0 629.6,339.1 631.1,339.1 631.6,339.2 632.1,339.3 632.6,339.3 633.1,339.4 634.6,339.5 635.0,339.5 635.5,339.6 636.0,339.6 636.5,339.7 638.0,339.7 638.5,339.8 639.0,340.0 639.5,340.1 640.0,340.2 641.4,340.3 641.9,340.4 642.4,340.6 642.9,340.7 643.4,340.7 645.4,340.8 645.9,340.8 646.4,340.9 646.8,341.0 648.3,341.1 648.8,341.2 649.3,341.3 649.8,341.3 650.3,341.4 651.8,341.5 652.3,341.5 652.7,341.6 653.2,341.6 653.7,341.6 655.7,341.6 656.2,341.6 656.7,341.6 657.2,341.6 658.6,341.6 659.1,341.6 659.6,341.6 660.1,341.6 660.6,341.5 662.1,341.5 663.1,341.4 663.6,341.3 664.1,341.3 665.5,341.2 666.0,341.0 666.5,340.9 667.0,340.7 667.5,340.5 669.0,340.3 669.5,340.1 670.0,339.9 670.5,339.7 670.9,339.5 672.4,339.3 672.9,339.0 673.4,338.8 673.9,338.5 674.4,338.3 675.9,338.1 676.4,337.8 676.8,337.6 677.3,337.3 677.8,337.1 679.3,336.9 679.8,336.6 680.3,336.4 680.8,336.2 681.3,336.0 682.7,335.8 683.2,335.6 683.7,335.5 684.2,335.4 684.7,335.3 686.2,335.1 686.7,335.0 687.2,334.8 687.7,334.7 688.2,334.6 689.6,334.5 690.1,334.4 690.6,334.3 691.1,334.2 691.6,334.2 693.6,334.1 694.1,334.0 694.5,333.9 695.0,333.9 696.5,333.8 697.0,333.7 697.5,333.6 698.0,333.5 698.5,333.4 700.0,333.4 700.4,333.3 700.9,333.2 701.4,333.0 701.9,332.8 703.4,332.6 703.9,332.4 704.4,332.2 704.9,332.0 705.4,331.8 706.8,331.5 707.3,331.3 707.8,331.0 708.3,330.7 708.8,330.4 710.3,330.2 710.8,329.9 711.3,329.6 711.8,329.3 712.2,329.0 713.7,328.7 714.2,328.4 714.7,328.1 715.2,327.8 715.7,327.5 717.2,327.3 717.7,327.1 718.1,326.9 718.6,326.8 719.1,326.6 720.6,326.4 721.1,326.2 721.6,326.0 722.1,325.8 722.6,325.5 724.1,325.3 724.5,325.1 725.0,324.9 725.5,324.7 726.0,324.5 727.5,324.3 728.0,324.1 728.5,323.9 729.0,323.7 729.5,323.6 730.9,323.4 731.4,323.2 731.9,323.0 732.9,322.8 734.4,322.6 734.9,322.3 735.4,322.1 735.9,321.9 736.3,321.7 737.8,321.4 738.3,321.2 738.8,320.9 739.3,320.6 739.8,320.3 741.3,319.9 741.8,319.5 742.2,319.1 742.7,318.7 743.2,318.3 744.7,317.7 745.2,317.2 745.7,316.8 746.2,316.3 746.7,315.8 748.6,315.3 749.1,314.7 749.6,314.2 750.1,313.7 752.1,313.3 752.6,312.8 753.1,312.4 753.6,311.9 755.0,311.4 755.5,310.9 756.0,310.4 756.5,309.9 757.0,309.3 759.0,308.8 759.5,308.2 759.9,307.6 760.4,307.1 761.9,306.5 762.4,306.0 762.9,305.4 763.4,304.9 763.9,304.4 765.4,303.8 765.8,303.2 766.3,302.7 766.8,302.1 767.3,301.5 768.8,300.9 769.3,300.3 769.8,299.7 770.3,299.1 770.8,298.5 772.2,297.9 772.7,297.3 773.2,296.7 773.7,296.1 774.2,295.5 776.2,294.8 776.7,294.2 777.2,293.5 777.6,292.9 779.1,292.2 779.6,291.6 780.1,290.9 780.6,290.3 781.1,289.6 782.6,288.9 783.1,288.1 783.6,287.3 784.0,286.6 784.5,285.9 786.0,285.2 786.5,284.6 787.0,283.9 787.5,283.3 788.0,282.7 789.5,282.1 789.9,281.5 790.4,280.9 790.9,280.3 791.4,279.7 792.9,279.1 793.4,278.5 793.9,277.9 794.4,277.3 796.3,276.8 796.8,276.3 797.3,275.7 797.8,275.2 798.3,274.7 799.8,274.2 800.3,273.6 800.8,273.1 801.3,272.5 801.7,271.9 803.2,271.4 803.7,270.9 804.2,270.4 804.7,269.9 805.2,269.5 806.7,268.9 807.2,268.4 807.6,267.9 808.1,267.4 808.6,266.9 810.1,266.4 810.6,265.9 811.1,265.4 811.6,264.8 812.1,264.3 813.5,263.7 814.0,263.1 814.5,262.6 815.0,262.0 815.5,261.4 817.0,260.8 817.5,260.2 818.0,259.6 818.5,258.9 819.0,258.3 820.4,257.6 820.9,256.9 821.4,256.2 821.9,255.6 822.4,254.9 824.4,254.2 824.9,253.5 825.3,252.8 825.8,252.1 827.3,251.4 827.8,250.6 828.3,249.8 828.8,249.0 829.3,248.1 830.8,247.3 831.2,246.4 831.7,245.6 832.2,244.7 832.7,243.9 834.2,243.0 834.7,242.1 835.7,241.2 836.2,240.4 837.6,239.6 838.1,238.7 838.6,237.9 839.1,237.1 839.6,236.4 841.1,235.6 841.6,234.7 842.1,233.9 843.1,233.0 844.5,232.1 845.0,231.3 845.5,230.4 846.0,229.6 846.5,228.8 848.0,228.0 848.5,227.3 849.0,226.5 849.4,225.7 849.9,224.9 851.4,224.2 851.9,223.5 852.4,222.8 852.9,222.1 853.4,221.4 854.9,220.8 855.3,220.1 855.8,219.4 856.3,218.7 856.8,218.0 858.3,217.4 858.8,216.7 859.3,216.0 859.8,215.2 860.3,214.4 861.7,213.5 862.2,212.7 862.7,211.8 863.2,210.9 863.7,210.0 865.2,209.1 865.7,208.2 866.2,207.4 866.7,206.5 867.1,205.6 868.6,204.7 869.1,203.8 869.6,202.9 870.1,202.1 870.6,201.3 872.6,200.5 873.0,199.7 873.5,198.9 874.0,198.1 875.5,197.2 876.0,196.4 876.5,195.5 877.0,194.6 877.5,193.7 878.9,192.9 879.4,192.0 879.9,191.2 880.4,190.4 880.9,189.5 882.4,188.7 882.9,187.9 883.4,187.1 883.9,186.4 884.4,185.7 885.8,185.0 886.3,184.3 886.8,183.6 887.3,182.9 887.8,182.3 889.3,181.7 889.8,181.1 890.3,180.4 890.8,179.7 891.2,179.1 892.7,178.5 893.2,177.9 893.7,177.3 894.2,176.7 894.7,176.0 896.2,175.4 896.7,174.7 897.1,174.1 897.6,173.6 898.1,173.0 899.6,172.5 900.1,172.0 900.6,171.5 901.1,171.0 901.6,170.5 903.0,169.9 903.5,169.4 904.0,168.7 904.5,168.1 905.0,167.4 906.5,166.7 907.0,166.1 907.5,165.5 908.0,165.0 908.5,164.4 909.9,163.8 910.4,163.3 910.9,162.7 911.4,162.1 911.9,161.4 913.4,160.8 913.9,160.1 914.4,159.5 915.3,158.8 916.8,158.1 917.3,157.4 917.8,156.7 918.3,156.0 918.8,155.3 920.3,154.6 920.7,154.0 921.2,153.3 921.7,152.7 922.2,152.0 923.7,151.4 924.2,150.8 924.7,150.3 925.2,149.8 925.7,149.3 927.1,148.8 927.6,148.2 928.6,147.6 929.1,147.0 930.6,146.5 931.1,146.1 932.1,145.6 932.5,145.1 934.0,144.6 934.5,144.1 935.0,143.6 936.0,143.1 937.5,142.6 938.0,142.1 938.4,141.6 938.9,141.1 939.4,140.5 941.4,139.9 941.9,139.3 942.4,138.7 942.9,138.1 944.3,137.4 944.8,136.8 945.3,136.1 945.8,135.4 946.3,134.7 947.8,133.9 948.3,133.1 948.8,132.3 949.3,131.4 949.8,130.5 951.2,129.6 951.7,128.7 952.2,127.8 952.7,126.9 953.2,126.0 955.2,125.1 955.7,124.3 956.2,123.5 956.6,122.7 958.1,122.0 958.6,121.3 959.1,120.6 959.6,119.9 960.1,119.2 961.6,118.5 962.1,117.8 962.5,117.2 963.0,116.5 963.5,115.9 965.0,115.5 965.5,115.2 966.0,114.9 966.5,114.6 967.0,114.4 968.4,114.1 968.9,113.9 969.4,113.7 969.9,113.4 970.4,113.2 971.9,112.9 972.4,112.6 972.9,112.4 973.4,112.1 973.9,111.9 975.3,111.6 975.8,111.3 976.3,111.0 976.8,110.7 977.3,110.5 978.8,110.4 979.3,110.2 979.8,110.0 980.2,109.7 980.7,109.4 982.2,109.1 982.7,108.7 983.2,108.3 983.7,108.0 985.7,107.7 986.1,107.5 986.6,107.3 987.1,107.0 987.6,106.8 989.1,106.5 989.6,106.1 990.1,105.7 990.6,105.3 991.1,104.9 992.5,104.4 993.0,104.0 993.5,103.6 994.0,103.1 994.5,102.6 996.0,102.1 996.5,101.6 997.0,101.1 997.5,100.6 997.9,100.0 999.4,99.4 999.9,98.9 1000.4,98.3 1000.9,97.8 1001.4,97.3 1003.4,96.8 1003.9,96.3 1004.3,95.8 1004.8,95.3 1006.3,94.8 1006.8,94.4 1007.3,93.9 1007.8,93.5 1008.3,93.1 1009.8,92.8 1010.2,92.5 1010.7,92.2 1011.2,91.9 1011.7,91.6 1013.2,91.4 1013.7,91.2 1014.2,91.0 1015.2,90.7 1016.6,90.4 1017.1,90.1 1017.6,89.8 1018.1,89.6 1018.6,89.3 1020.1,89.1 1020.6,88.9 1021.1,88.7 1021.6,88.5 1023.5,88.3 1024.0,88.0 1024.5,87.8 1025.0,87.6 1025.5,87.4 1027.0,87.2 1027.5,87.0 1027.9,86.8 1028.4,86.7 1028.9,86.5 1030.4,86.3 1030.9,86.2 1031.4,86.0 1031.9,85.9 1032.4,85.7 1033.8,85.7 1034.3,85.6 1034.8,85.5 1035.3,85.4 1035.8,85.3 1037.3,85.1 1037.8,85.0 1038.3,84.8 1038.8,84.6 1039.3,84.4 1040.7,84.1 1041.2,83.9 1041.7,83.7 1042.2,83.4 1042.7,83.2 1044.2,82.9 1044.7,82.6 1045.2,82.3 1045.6,82.0 1046.1,81.8 1047.6,81.7 1048.1,81.6 1048.6,81.5 1049.1,81.5 1049.6,81.5 1051.5,81.5 1052.0,81.4 1052.5,81.3 1053.0,81.2 1054.5,81.0 1055.0,80.9 1055.5,80.8 1056.0,80.8 1056.5,80.7 1057.9,80.7 1058.4,80.7 1058.9,80.8 1059.4,80.8 1059.9,80.8 1061.4,80.9 1061.9,81.1 1062.4,81.2 1062.9,81.3 1063.4,81.5 1064.8,81.6 1065.3,81.8 1065.8,82.0 1066.3,82.2 1066.8,82.4 1068.3,82.6 1068.8,82.8 1069.3,82.9 1069.7,83.0 1070.2,83.0 1071.7,83.1 1072.2,83.0 1072.7,83.0 1073.2,83.0 1073.7,83.0 1075.2,82.9 1075.6,82.8 1076.1,82.8 1076.6,82.7 1077.1,82.7 1078.6,82.7 1079.1,82.8 1079.6,82.8 1080.1,82.8 1080.6,82.8 1082.0,82.7 1082.5,82.7 1083.0,82.8 1083.5,82.8 1084.0,82.8 1085.5,82.9 1086.0,83.0 1086.5,83.2 1087.0,83.3 1087.4,83.5 1088.9,83.7 1089.4,84.0 1089.9,84.3 1090.4,84.7 1090.9,85.0 1092.4,85.4 1092.9,85.9 1093.3,86.3 1094.3,86.7 1095.8,87.1 1096.3,87.5 1096.8,87.9 1097.3,88.3 1097.8,88.6 1099.2,89.0 1099.7,89.5 1100.2,89.9 1100.7,90.3 1101.2,90.7 1102.7,91.1 1103.2,91.6 1103.7,92.1 1104.2,92.5 1104.7,93.0 1106.1,93.4 1106.6,93.6 1107.1,93.8 1108.1,93.9 1109.6,94.0 1110.1,94.0 1110.6,94.1 1111.5,94.2 1113.0,94.3 1113.5,94.3 1114.0,94.3 1114.5,94.4 1115.0,94.4 1116.5,94.4 1117.0,94.3 1117.4,94.3 1117.9,94.3 1118.4,94.2 1120.4,94.2 1120.9,94.2 1121.4,94.1" fill="none" stroke="#800080" stroke-width="2.08" stroke-linejoin="round" stroke-linecap="square"/>
<path d="M86.5 29.5H1171.5" stroke="#008000" stroke-opacity="0.7" stroke-width="1.39" stroke-dasharray="8.89 2.22 1.39 2.22" fill="none"/>
<path d="M86.5 149.5H1171.5" stroke="#ff0000" stroke-opacity="0.7" stroke-width="1.39" stroke-dasharray="8.89 2.22 1.39 2.22" fill="none"/>
<path d="M1121.5 456.5V10.5" stroke="#ff0000" stroke-opacity="0.7" stroke-width="1.39" stroke-dasharray="5.14 2.22" fill="none"/>
<rect x="86.5" y="10.5" width="1085.0" height="446.0" fill="none" stroke="#000" stroke-width="1.1"/>
<path d="M86.5 433.5h-4.9M86.5 381.5h-4.9M86.5 329.5h-4.9M86.5 277.5h-4.9M86.5 224.5h-4.9M86.5 172.5h-4.9M86.5 120.5h-4.9M86.5 68.5h-4.9M86.5 15.5h-4.9M213.5 456.5v4.9M393.5 456.5v4.9M572.5 456.5v4.9M751.5 456.5v4.9M931.5 456.5v4.9M1111.5 456.5v4.9" stroke="#000" stroke-width="1.1" fill="none"/>
<g font-family="Liberation Sans, WenQuanYi Zen Hei, sans-serif">
<text x="75.3" y="438.1" font-size="12.70" text-anchor="end" fill="#000" textLength="24.2" lengthAdjust="spacingAndGlyphs"  text-rendering="geometricPrecision">300</text>
<text x="75.3" y="386.1" font-size="12.70" text-anchor="end" fill="#000" textLength="24.2" lengthAdjust="spacingAndGlyphs"  text-rendering="geometricPrecision">400</text>
<text x="75.3" y="334.1" font-size="12.70" text-anchor="end" fill="#000" textLength="24.2" lengthAdjust="spacingAndGlyphs"  text-rendering="geometricPrecision">500</text>
<text x="75.3" y="282.1" font-size="12.70" text-anchor="end" fill="#000" textLength="24.2" lengthAdjust="spacingAndGlyphs"  text-rendering="geometricPrecision">600</text>
<text x="75.3" y="229.1" font-size="12.70" text-anchor="end" fill="#000" textLength="24.2" lengthAdjust="spacingAndGlyphs"  text-rendering="geometricPrecision">700</text>
<text x="75.3" y="177.1" font-size="12.70" text-anchor="end" fill="#000" textLength="24.2" lengthAdjust="spacingAndGlyphs"  text-rendering="geometricPrecision">800</text>
<text x="75.3" y="125.1" font-size="12.70" text-anchor="end" fill="#000" textLength="24.2" lengthAdjust="spacingAndGlyphs"  text-rendering="geometricPrecision">900</text>
<text x="75.3" y="73.1" font-size="12.70" text-anchor="end" fill="#000" textLength="32.2" lengthAdjust="spacingAndGlyphs"  text-rendering="geometricPrecision">1000</text>
<text x="75.3" y="20.1" font-size="12.70" text-anchor="end" fill="#000" textLength="32.2" lengthAdjust="spacingAndGlyphs"  text-rendering="geometricPrecision">1100</text>
</g>
<path d="M213.5 471.5V620.5M393.5 471.5V620.5M572.5 471.5V620.5M751.5 471.5V620.5M931.5 471.5V620.5M1111.5 471.5V620.5M86.5 576.5H1171.5M86.5 532.5H1171.5M86.5 488.5H1171.5" stroke="#b0b0b0" stroke-width="1.1" fill="none"/>
<path d="M135.5 620.5V606.0M136.5 620.5V606.0M137.5 620.5V609.0M139.5 620.5V577.0M140.5 620.5V600.0M142.5 620.5V603.0M143.5 620.5V611.0M150.5 620.5V594.0M152.5 620.5V610.0M153.5 620.5V606.0M154.5 620.5V608.0M156.5 620.5V613.0M157.5 620.5V612.0M159.5 620.5V610.0M160.5 620.5V607.0M161.5 620.5V608.0M163.5 620.5V608.0M164.5 620.5V604.0M166.5 620.5V605.0M167.5 620.5V612.0M168.5 620.5V606.0M170.5 620.5V603.0M171.5 620.5V610.0M180.5 620.5V608.0M181.5 620.5V612.0M183.5 620.5V605.0M184.5 620.5V603.0M185.5 620.5V613.0M187.5 620.5V608.0M188.5 620.5V601.0M190.5 620.5V605.0M191.5 620.5V604.0M192.5 620.5V603.0M194.5 620.5V603.0M197.5 620.5V590.0M198.5 620.5V607.0M199.5 620.5V591.0M201.5 620.5V598.0M202.5 620.5V604.0M211.5 620.5V602.0M212.5 620.5V585.0M214.5 620.5V599.0M215.5 620.5V588.0M216.5 620.5V599.0M218.5 620.5V603.0M219.5 620.5V588.0M222.5 620.5V594.0M223.5 620.5V599.0M225.5 620.5V600.0M226.5 620.5V602.0M228.5 620.5V598.0M229.5 620.5V597.0M230.5 620.5V587.0M232.5 620.5V603.0M239.5 620.5V577.0M240.5 620.5V581.0M242.5 620.5V479.0M243.5 620.5V568.0M245.5 620.5V562.0M246.5 620.5V578.0M247.5 620.5V596.0M249.5 620.5V577.0M250.5 620.5V598.0M252.5 620.5V582.0M253.5 620.5V592.0M254.5 620.5V590.0M256.5 620.5V595.0M257.5 620.5V597.0M259.5 620.5V601.0M260.5 620.5V605.0M261.5 620.5V603.0M269.5 620.5V603.0M270.5 620.5V609.0M271.5 620.5V605.0M273.5 620.5V603.0M274.5 620.5V586.0M276.5 620.5V597.0M277.5 620.5V588.0M278.5 620.5V588.0M280.5 620.5V593.0M281.5 620.5V600.0M283.5 620.5V605.0M284.5 620.5V602.0M285.5 620.5V571.0M287.5 620.5V594.0M288.5 620.5V599.0M290.5 620.5V596.0M291.5 620.5V605.0M298.5 620.5V611.0M300.5 620.5V610.0M301.5 620.5V601.0M302.5 620.5V603.0M304.5 620.5V598.0M305.5 620.5V595.0M307.5 620.5V597.0M308.5 620.5V593.0M309.5 620.5V598.0M311.5 620.5V607.0M312.5 620.5V597.0M314.5 620.5V603.0M315.5 620.5V603.0M316.5 620.5V591.0M318.5 620.5V603.0M319.5 620.5V597.0M321.5 620.5V608.0M328.5 620.5V609.0M329.5 620.5V598.0M331.5 620.5V610.0M332.5 620.5V612.0M333.5 620.5V611.0M335.5 620.5V606.0M336.5 620.5V606.0M338.5 620.5V613.0M339.5 620.5V608.0M340.5 620.5V594.0M342.5 620.5V609.0M343.5 620.5V604.0M345.5 620.5V606.0M346.5 620.5V605.0M347.5 620.5V613.0M349.5 620.5V602.0M350.5 620.5V609.0M359.5 620.5V606.0M360.5 620.5V607.0M362.5 620.5V610.0M363.5 620.5V603.0M364.5 620.5V610.0M366.5 620.5V593.0M367.5 620.5V604.0M369.5 620.5V604.0M370.5 620.5V599.0M371.5 620.5V607.0M373.5 620.5V612.0M376.5 620.5V603.0M377.5 620.5V585.0M378.5 620.5V603.0M380.5 620.5V598.0M381.5 620.5V604.0M390.5 620.5V603.0M391.5 620.5V596.0M393.5 620.5V595.0M394.5 620.5V586.0M395.5 620.5V593.0M397.5 620.5V588.0M398.5 620.5V600.0M401.5 620.5V595.0M402.5 620.5V595.0M404.5 620.5V595.0M405.5 620.5V591.0M407.5 620.5V591.0M408.5 620.5V591.0M409.5 620.5V605.0M411.5 620.5V600.0M418.5 620.5V591.0M419.5 620.5V582.0M421.5 620.5V595.0M422.5 620.5V580.0M424.5 620.5V582.0M425.5 620.5V596.0M426.5 620.5V597.0M428.5 620.5V590.0M429.5 620.5V596.0M431.5 620.5V586.0M432.5 620.5V594.0M433.5 620.5V597.0M435.5 620.5V587.0M436.5 620.5V602.0M438.5 620.5V592.0M439.5 620.5V588.0M440.5 620.5V588.0M448.5 620.5V597.0M449.5 620.5V599.0M450.5 620.5V590.0M452.5 620.5V596.0M453.5 620.5V580.0M455.5 620.5V581.0M456.5 620.5V596.0M457.5 620.5V588.0M459.5 620.5V605.0M460.5 620.5V544.0M462.5 620.5V605.0M463.5 620.5V583.0M464.5 620.5V577.0M466.5 620.5V593.0M467.5 620.5V560.0M469.5 620.5V585.0M470.5 620.5V602.0M477.5 620.5V601.0M479.5 620.5V603.0M480.5 620.5V598.0M481.5 620.5V603.0M483.5 620.5V601.0M484.5 620.5V604.0M486.5 620.5V607.0M487.5 620.5V599.0M488.5 620.5V601.0M490.5 620.5V597.0M491.5 620.5V600.0M493.5 620.5V600.0M494.5 620.5V595.0M495.5 620.5V603.0M497.5 620.5V602.0M498.5 620.5V605.0M500.5 620.5V602.0M507.5 620.5V601.0M508.5 620.5V585.0M510.5 620.5V594.0M511.5 620.5V596.0M512.5 620.5V603.0M514.5 620.5V599.0M515.5 620.5V595.0M517.5 620.5V601.0M518.5 620.5V603.0M519.5 620.5V595.0M521.5 620.5V605.0M522.5 620.5V599.0M524.5 620.5V605.0M525.5 620.5V591.0M526.5 620.5V600.0M528.5 620.5V593.0M529.5 620.5V598.0M538.5 620.5V586.0M539.5 620.5V597.0M541.5 620.5V602.0M542.5 620.5V590.0M543.5 620.5V607.0M545.5 620.5V608.0M546.5 620.5V604.0M548.5 620.5V603.0M549.5 620.5V607.0M550.5 620.5V608.0M552.5 620.5V600.0M555.5 620.5V606.0M556.5 620.5V604.0M557.5 620.5V589.0M559.5 620.5V590.0M566.5 620.5V611.0M567.5 620.5V604.0M569.5 620.5V604.0M570.5 620.5V606.0M573.5 620.5V602.0M574.5 620.5V571.0M576.5 620.5V609.0M577.5 620.5V602.0M580.5 620.5V601.0M581.5 620.5V602.0M583.5 620.5V610.0M584.5 620.5V603.0M586.5 620.5V605.0M587.5 620.5V608.0M588.5 620.5V594.0M597.5 620.5V592.0M598.5 620.5V594.0M600.5 620.5V596.0M601.5 620.5V606.0M603.5 620.5V588.0M604.5 620.5V604.0M605.5 620.5V605.0M607.5 620.5V585.0M608.5 620.5V586.0M610.5 620.5V601.0M611.5 620.5V595.0M612.5 620.5V604.0M614.5 620.5V597.0M615.5 620.5V584.0M617.5 620.5V602.0M618.5 620.5V599.0M627.5 620.5V606.0M628.5 620.5V611.0M629.5 620.5V608.0M631.5 620.5V609.0M632.5 620.5V605.0M634.5 620.5V608.0M635.5 620.5V607.0M636.5 620.5V603.0M638.5 620.5V608.0M639.5 620.5V602.0M641.5 620.5V604.0M642.5 620.5V604.0M643.5 620.5V567.0M645.5 620.5V592.0M646.5 620.5V605.0M648.5 620.5V601.0M649.5 620.5V612.0M656.5 620.5V611.0M658.5 620.5V615.0M659.5 620.5V609.0M660.5 620.5V598.0M663.5 620.5V609.0M665.5 620.5V610.0M666.5 620.5V608.0M667.5 620.5V608.0M669.5 620.5V606.0M670.5 620.5V605.0M672.5 620.5V611.0M673.5 620.5V606.0M674.5 620.5V603.0M676.5 620.5V612.0M677.5 620.5V607.0M686.5 620.5V616.0M687.5 620.5V610.0M689.5 620.5V613.0M690.5 620.5V608.0M691.5 620.5V610.0M693.5 620.5V607.0M694.5 620.5V609.0M696.5 620.5V612.0M697.5 620.5V612.0M698.5 620.5V605.0M700.5 620.5V613.0M701.5 620.5V614.0M703.5 620.5V611.0M704.5 620.5V580.0M705.5 620.5V610.0M707.5 620.5V614.0M708.5 620.5V613.0M715.5 620.5V597.0M717.5 620.5V613.0M718.5 620.5V607.0M720.5 620.5V606.0M721.5 620.5V611.0M722.5 620.5V605.0M724.5 620.5V611.0M725.5 620.5V613.0M727.5 620.5V610.0M728.5 620.5V610.0M729.5 620.5V610.0M731.5 620.5V610.0M734.5 620.5V604.0M735.5 620.5V611.0M736.5 620.5V614.0M738.5 620.5V611.0M745.5 620.5V600.0M746.5 620.5V607.0M748.5 620.5V603.0M749.5 620.5V605.0M752.5 620.5V611.0M753.5 620.5V601.0M755.5 620.5V609.0M756.5 620.5V611.0M759.5 620.5V607.0M760.5 620.5V609.0M762.5 620.5V610.0M763.5 620.5V605.0M765.5 620.5V609.0M766.5 620.5V609.0M767.5 620.5V607.0M776.5 620.5V610.0M777.5 620.5V609.0M779.5 620.5V609.0M780.5 620.5V596.0M782.5 620.5V608.0M783.5 620.5V597.0M784.5 620.5V579.0M786.5 620.5V591.0M787.5 620.5V612.0M789.5 620.5V609.0M790.5 620.5V601.0M791.5 620.5V611.0M793.5 620.5V602.0M794.5 620.5V610.0M796.5 620.5V603.0M797.5 620.5V604.0M804.5 620.5V605.0M806.5 620.5V609.0M807.5 620.5V609.0M808.5 620.5V611.0M810.5 620.5V611.0M811.5 620.5V615.0M813.5 620.5V611.0M814.5 620.5V611.0M815.5 620.5V614.0M817.5 620.5V610.0M818.5 620.5V612.0M820.5 620.5V608.0M821.5 620.5V612.0M822.5 620.5V611.0M824.5 620.5V613.0M825.5 620.5V613.0M827.5 620.5V613.0M834.5 620.5V609.0M835.5 620.5V614.0M837.5 620.5V609.0M838.5 620.5V609.0M839.5 620.5V607.0M841.5 620.5V608.0M844.5 620.5V610.0M845.5 620.5V610.0M846.5 620.5V610.0M848.5 620.5V612.0M849.5 620.5V608.0M851.5 620.5V601.0M852.5 620.5V610.0M853.5 620.5V606.0M855.5 620.5V615.0M856.5 620.5V608.0M865.5 620.5V610.0M866.5 620.5V607.0M868.5 620.5V610.0M869.5 620.5V609.0M870.5 620.5V602.0M872.5 620.5V612.0M873.5 620.5V607.0M875.5 620.5V606.0M876.5 620.5V611.0M877.5 620.5V607.0M879.5 620.5V614.0M880.5 620.5V599.0M882.5 620.5V611.0M883.5 620.5V609.0M884.5 620.5V605.0M886.5 620.5V612.0M887.5 620.5V611.0M894.5 620.5V611.0M896.5 620.5V611.0M897.5 620.5V613.0M899.5 620.5V612.0M900.5 620.5V610.0M901.5 620.5V612.0M903.5 620.5V611.0M904.5 620.5V610.0M906.5 620.5V602.0M907.5 620.5V612.0M908.5 620.5V613.0M910.5 620.5V606.0M911.5 620.5V596.0M913.5 620.5V609.0M914.5 620.5V614.0M915.5 620.5V611.0M917.5 620.5V604.0M924.5 620.5V608.0M925.5 620.5V608.0M927.5 620.5V607.0M928.5 620.5V605.0M930.5 620.5V608.0M932.5 620.5V605.0M934.5 620.5V610.0M937.5 620.5V610.0M938.5 620.5V602.0M939.5 620.5V609.0M941.5 620.5V613.0M942.5 620.5V609.0M944.5 620.5V612.0M945.5 620.5V612.0M946.5 620.5V608.0M955.5 620.5V612.0M956.5 620.5V603.0M958.5 620.5V609.0M959.5 620.5V609.0M961.5 620.5V606.0M962.5 620.5V614.0M963.5 620.5V586.0M965.5 620.5V596.0M966.5 620.5V597.0M968.5 620.5V612.0M969.5 620.5V614.0M970.5 620.5V607.0M972.5 620.5V613.0M973.5 620.5V606.0M975.5 620.5V604.0M976.5 620.5V603.0M983.5 620.5V611.0M985.5 620.5V613.0M986.5 620.5V614.0M987.5 620.5V608.0M989.5 620.5V605.0M990.5 620.5V614.0M992.5 620.5V607.0M993.5 620.5V613.0M994.5 620.5V609.0M996.5 620.5V609.0M997.5 620.5V613.0M999.5 620.5V613.0M1000.5 620.5V612.0M1001.5 620.5V609.0M1003.5 620.5V610.0M1004.5 620.5V611.0M1006.5 620.5V608.0M1013.5 620.5V609.0M1016.5 620.5V612.0M1017.5 620.5V612.0M1018.5 620.5V609.0M1020.5 620.5V609.0M1021.5 620.5V608.0M1023.5 620.5V610.0M1024.5 620.5V615.0M1025.5 620.5V610.0M1027.5 620.5V610.0M1028.5 620.5V606.0M1030.5 620.5V604.0M1031.5 620.5V600.0M1032.5 620.5V608.0M1034.5 620.5V613.0M1035.5 620.5V607.0M1044.5 620.5V609.0M1045.5 620.5V607.0M1047.5 620.5V613.0M1048.5 620.5V610.0M1049.5 620.5V614.0M1051.5 620.5V611.0M1052.5 620.5V613.0M1054.5 620.5V608.0M1055.5 620.5V604.0M1056.5 620.5V613.0M1058.5 620.5V607.0M1059.5 620.5V613.0M1061.5 620.5V607.0M1062.5 620.5V611.0M1063.5 620.5V589.0M1065.5 620.5V603.0M1072.5 620.5V602.0M1073.5 620.5V607.0M1075.5 620.5V603.0M1076.5 620.5V610.0M1078.5 620.5V609.0M1079.5 620.5V608.0M1080.5 620.5V611.0M1082.5 620.5V597.0M1083.5 620.5V611.0M1085.5 620.5V612.0M1086.5 620.5V607.0M1087.5 620.5V613.0M1089.5 620.5V607.0M1090.5 620.5V613.0M1092.5 620.5V612.0M1093.5 620.5V611.0M1094.5 620.5V614.0M1102.5 620.5V607.0M1103.5 620.5V610.0M1104.5 620.5V611.0M1106.5 620.5V611.0M1109.5 620.5V614.0M1110.5 620.5V603.0M1111.5 620.5V601.0M1113.5 620.5V578.0M1114.5 620.5V592.0M1116.5 620.5V597.0M1117.5 620.5V603.0M1118.5 620.5V604.0M1120.5 620.5V599.0M1121.5 620.5V610.0" stroke="#bfbfbf" stroke-width="1" fill="none"/>
<rect x="86.5" y="471.5" width="1085.0" height="149.0" fill="none" stroke="#000" stroke-width="1.1"/>
<path d="M86.5 620.5h-4.9M86.5 576.5h-4.9M86.5 532.5h-4.9M86.5 488.5h-4.9M213.5 620.5v4.9M393.5 620.5v4.9M572.5 620.5v4.9M751.5 620.5v4.9M931.5 620.5v4.9M1111.5 620.5v4.9" stroke="#000" stroke-width="1.1" fill="none"/>
<g font-family="Liberation Sans, WenQuanYi Zen Hei, sans-serif">
<text x="75.3" y="625.1" font-size="12.70" text-anchor="end" fill="#000" textLength="8.1" lengthAdjust="spacingAndGlyphs"  text-rendering="geometricPrecision">0</text>
<text x="75.3" y="581.1" font-size="12.70" text-anchor="end" fill="#000" textLength="48.4" lengthAdjust="spacingAndGlyphs"  text-rendering="geometricPrecision">200000</text>
<text x="75.3" y="537.1" font-size="12.70" text-anchor="end" fill="#000" textLength="48.4" lengthAdjust="spacingAndGlyphs"  text-rendering="geometricPrecision">400000</text>
<text x="75.3" y="493.1" font-size="12.70" text-anchor="end" fill="#000" textLength="48.4" lengthAdjust="spacingAndGlyphs"  text-rendering="geometricPrecision">600000</text>
<text x="213.5" y="639.2" font-size="12.95" text-anchor="middle" fill="#000" textLength="53.0" lengthAdjust="spacingAndGlyphs"  text-rendering="geometricPrecision">2021-01</text>
<text x="393.5" y="639.2" font-size="12.95" text-anchor="middle" fill="#000" textLength="53.0" lengthAdjust="spacingAndGlyphs"  text-rendering="geometricPrecision">2022-01</text>
<text x="572.5" y="639.2" font-size="12.95" text-anchor="middle" fill="#000" textLength="53.0" lengthAdjust="spacingAndGlyphs"  text-rendering="geometricPrecision">2023-01</text>
<text x="751.5" y="639.2" font-size="12.95" text-anchor="middle" fill="#000" textLength="53.0" lengthAdjust="spacingAndGlyphs"  text-rendering="geometricPrecision">2024-01</text>
<text x="931.5" y="639.2" font-size="12.95" text-anchor="middle" fill="#000" textLength="53.0" lengthAdjust="spacingAndGlyphs"  text-rendering="geometricPrecision">2025-01</text>
<text x="1111.5" y="639.2" font-size="12.95" text-anchor="middle" fill="#000" textLength="53.0" lengthAdjust="spacingAndGlyphs"  text-rendering="geometricPrecision">2026-01</text>
<text transform="translate(18.3,547) rotate(-90)" font-size="13.3" text-rendering="geometricPrecision" text-anchor="middle" textLength="44" lengthAdjust="spacingAndGlyphs">Volume</text>
</g>
<rect x="93.55" y="17.9" width="107.95" height="118.6" rx="3" fill="#fff" fill-opacity="0.8" stroke="#ccc" stroke-opacity="0.8" stroke-width="1.39"/>
<path d="M97 26.9H127" stroke="#000" stroke-width="2.08"/>
<path d="M97 46.9H127" stroke="#008000" stroke-width="2.08"/>
<path d="M97 68.0H127" stroke="#ff0000" stroke-width="2.08"/>
<path d="M97 85.9H127" stroke="#800080" stroke-width="2.08"/>
<path d="M112.5 97.5L103.1 116.1L121.8 116.1Z" fill="#008000" stroke="#008000" stroke-width="1.39" stroke-linejoin="miter" stroke-miterlimit="10"/>
<path d="M112.5 134.5L103.1 115.9L121.8 115.9Z" fill="#ff0000" stroke="#ff0000" stroke-width="1.39" stroke-linejoin="miter" stroke-miterlimit="10"/>
<g font-family="Liberation Sans, WenQuanYi Zen Hei, sans-serif">
<text x="137.5" y="32.2" font-size="12.00" text-anchor="start" fill="#000" textLength="33.5" lengthAdjust="spacingAndGlyphs"  text-rendering="geometricPrecision">Close</text>
<text x="137.2" y="51.6" font-size="12.00" text-anchor="start" fill="#000" textLength="34.6" lengthAdjust="spacingAndGlyphs"  text-rendering="geometricPrecision">MA50</text>
<text x="171.4" y="51.3" font-size="11.50" text-anchor="start" fill="#000"  text-rendering="geometricPrecision">[</text>
<text x="175.3" y="52.4" font-size="14.50" text-anchor="start" fill="#000" >买</text>
<text x="190.6" y="51.3" font-size="11.50" text-anchor="start" fill="#000"  text-rendering="geometricPrecision">]</text>
<text x="137.2" y="72.7" font-size="12.00" text-anchor="start" fill="#000" textLength="34.6" lengthAdjust="spacingAndGlyphs"  text-rendering="geometricPrecision">MA25</text>
<text x="171.4" y="72.4" font-size="11.50" text-anchor="start" fill="#000"  text-rendering="geometricPrecision">[</text>
<text x="175.3" y="73.5" font-size="14.50" text-anchor="start" fill="#000" >卖</text>
<text x="190.6" y="72.4" font-size="11.50" text-anchor="start" fill="#000"  text-rendering="geometricPrecision">]</text>
<text x="137.5" y="92.2" font-size="12.00" text-anchor="start" fill="#000" textLength="42.5" lengthAdjust="spacingAndGlyphs"  text-rendering="geometricPrecision">MA200</text>
<text x="137.5" y="109.5" font-size="12.00" text-anchor="start" fill="#000" textLength="20.5" lengthAdjust="spacingAndGlyphs"  text-rendering="geometricPrecision">Buy</text>
<text x="137.5" y="128.6" font-size="12.00" text-anchor="start" fill="#000" textLength="22.0" lengthAdjust="spacingAndGlyphs"  text-rendering="geometricPrecision">Sell</text>
</g>
<rect x="975.7" y="331.6" width="178.1" height="106.4" rx="4.0" fill="#fff" fill-opacity="0.9" stroke="#ff0000" stroke-width="1.39"/>
<g font-family="Liberation Sans, WenQuanYi Zen Hei, sans-serif" fill="#ff0000">
<text x="1149.4" y="348.0" font-size="15.00" text-anchor="end" fill="#ff0000" textLength="152.5" lengthAdjust="spacingAndGlyphs"  text-rendering="geometricPrecision">981.14 (-1.65 -0.17%)</text>
<text x="1148.8" y="364.0" font-size="15.00" text-anchor="end" fill="#ff0000" textLength="117.5" lengthAdjust="spacingAndGlyphs"  text-rendering="geometricPrecision">844.28~1073.62</text>
<text x="983.0" y="380.0" font-size="15.00" text-anchor="start" fill="#ff0000" textLength="48.9" lengthAdjust="spacingAndGlyphs"  text-rendering="geometricPrecision">900.37</text>
<text transform="translate(1032.5,383.1) skewX(-15.0) scale(1,1.31)" font-size="15" fill="#ff0000" text-rendering="geometricPrecision">/</text>
<text x="1040.6" y="380.0" font-size="15.00" text-anchor="start" fill="#ff0000" textLength="48.9" lengthAdjust="spacingAndGlyphs"  text-rendering="geometricPrecision">900.36</text>
<text transform="translate(1090.1,383.1) skewX(-15.0) scale(1,1.31)" font-size="15" fill="#ff0000" text-rendering="geometricPrecision">/</text>
<text x="1148.8" y="380.0" font-size="15.00" text-anchor="end" fill="#ff0000" textLength="48.9" lengthAdjust="spacingAndGlyphs"  text-rendering="geometricPrecision">949.25</text>
<text x="1149.2" y="396.0" font-size="15.00" text-anchor="end" fill="#ff0000" textLength="127.5" lengthAdjust="spacingAndGlyphs"  text-rendering="geometricPrecision">2026-01-22 05:00</text>
<text x="979.6" y="413.3" font-size="15.00" text-anchor="start" fill="#ff0000" textLength="36.6" lengthAdjust="spacingAndGlyphs"  text-rendering="geometricPrecision">-0.88</text>
<text transform="translate(1016.7,417.1) skewX(-16.1) scale(1,1.31)" font-size="15" fill="#ff0000" text-rendering="geometricPrecision">/</text>
<text x="1025.3" y="414.1" font-size="15.28" text-anchor="start" fill="#ff0000" >偏空</text>
<text transform="translate(1055.3,417.1) skewX(-14.6) scale(1,1.31)" font-size="15" fill="#ff0000" text-rendering="geometricPrecision">/</text>
<text x="1062.9" y="413.3" font-size="15.00" text-anchor="start" fill="#ff0000" textLength="41.4" lengthAdjust="spacingAndGlyphs"  text-rendering="geometricPrecision">+0.58</text>
<text transform="translate(1104.4,417.1) skewX(-15.7) scale(1,1.31)" font-size="15" fill="#ff0000" text-rendering="geometricPrecision">/</text>
<text x="1148.8" y="413.3" font-size="15.00" text-anchor="end" fill="#ff0000" textLength="36.6" lengthAdjust="spacingAndGlyphs"  text-rendering="geometricPrecision">-0.04</text>
<text x="1020.0" y="431.7" font-size="15.28" text-anchor="start" fill="#ff0000" >连涨</text>
<text x="1050.6" y="430.9" font-size="15.00" text-anchor="start" fill="#ff0000" textLength="17.7" lengthAdjust="spacingAndGlyphs"  text-rendering="geometricPrecision">11</text>
<text x="1068.6" y="431.7" font-size="15.28" text-anchor="start" fill="#ff0000" >天</text>
<text x="1149.4" y="430.9" font-size="15.00" text-anchor="end" fill="#ff0000" textLength="60.5" lengthAdjust="spacingAndGlyphs"  text-rendering="geometricPrecision">+11.17%</text>
</g>
<g font-family="Liberation Sans, WenQuanYi Zen Hei, sans-serif">
<text x="85.8" y="675.7" font-size="17.70" text-anchor="start" fill="#000" textLength="40.0" lengthAdjust="spacingAndGlyphs"  text-rendering="geometricPrecision">COST</text>
<text x="130.5" y="675.5" font-size="16.67" text-anchor="start" fill="#000" >交易次数</text>
<text x="199.0" y="675.7" font-size="16.90" text-anchor="start" fill="#000" textLength="18.0" lengthAdjust="spacingAndGlyphs"  text-rendering="geometricPrecision">: 5</text>
<text x="86.0" y="695.5" font-size="16.67" text-anchor="start" fill="#000" >策略总收益率</text>
<text x="187.0" y="695.7" font-size="16.90" text-anchor="start" fill="#000" textLength="75.3" lengthAdjust="spacingAndGlyphs"  text-rendering="geometricPrecision">: 208.07%</text>
<text x="86.0" y="715.5" font-size="16.67" text-anchor="start" fill="#000" >长期持有收益</text>
<text x="187.0" y="715.7" font-size="16.90" text-anchor="start" fill="#000" textLength="75.3" lengthAdjust="spacingAndGlyphs"  text-rendering="geometricPrecision">: 182.65%</text>
<text x="86.0" y="734.6" font-size="16.67" text-anchor="start" fill="#000" >交易记录</text>
<text x="152.5" y="734.8" font-size="16.90" text-anchor="start" fill="#000"  text-rendering="geometricPrecision">:</text>
<text x="95.6" y="751.8" font-size="17.70" text-anchor="start" fill="#000" textLength="66.0" lengthAdjust="spacingAndGlyphs"  text-rendering="geometricPrecision">Buy Date</text>
<text x="171.4" y="751.8" font-size="17.70" text-anchor="start" fill="#000" textLength="67.0" lengthAdjust="spacingAndGlyphs"  text-rendering="geometricPrecision">Buy Price</text>
<text x="248.2" y="751.8" font-size="17.70" text-anchor="start" fill="#000" textLength="66.5" lengthAdjust="spacingAndGlyphs"  text-rendering="geometricPrecision">Sell Date</text>
<text x="324.6" y="751.8" font-size="17.70" text-anchor="start" fill="#000" textLength="68.3" lengthAdjust="spacingAndGlyphs"  text-rendering="geometricPrecision">Sell Price</text>
<text x="402.4" y="751.8" font-size="17.70" text-anchor="start" fill="#000" textLength="95.0" lengthAdjust="spacingAndGlyphs"  text-rendering="geometricPrecision">Holding Days</text>
<text x="507.0" y="751.8" font-size="17.70" text-anchor="start" fill="#000" textLength="55.0" lengthAdjust="spacingAndGlyphs"  text-rendering="geometricPrecision">Profit %</text>
<text x="86.2" y="770.0" font-size="16.90" text-anchor="start" fill="#000" textLength="90.0" lengthAdjust="spacingAndGlyphs"  text-rendering="geometricPrecision">2020-12-18</text>
<text x="255.6" y="770.0" font-size="16.90" text-anchor="end" fill="#000" textLength="55.5" lengthAdjust="spacingAndGlyphs"  text-rendering="geometricPrecision">347.12</text>
<text x="260.5" y="770.0" font-size="16.90" text-anchor="start" fill="#000" textLength="90.0" lengthAdjust="spacingAndGlyphs"  text-rendering="geometricPrecision">2021-09-20</text>
<text x="435.3" y="770.0" font-size="16.90" text-anchor="end" fill="#000" textLength="55.5" lengthAdjust="spacingAndGlyphs"  text-rendering="geometricPrecision">429.65</text>
<text x="520.0" y="770.0" font-size="16.90" text-anchor="end" fill="#000" textLength="29.0" lengthAdjust="spacingAndGlyphs"  text-rendering="geometricPrecision">275</text>
<text x="590.4" y="770.0" font-size="16.90" text-anchor="end" fill="#000" textLength="45.2" lengthAdjust="spacingAndGlyphs"  text-rendering="geometricPrecision">23.78</text>
<text x="86.2" y="787.0" font-size="16.90" text-anchor="start" fill="#000" textLength="90.0" lengthAdjust="spacingAndGlyphs"  text-rendering="geometricPrecision">2021-10-01</text>
<text x="255.6" y="787.0" font-size="16.90" text-anchor="end" fill="#000" textLength="55.5" lengthAdjust="spacingAndGlyphs"  text-rendering="geometricPrecision">426.52</text>
<text x="260.5" y="787.0" font-size="16.90" text-anchor="start" fill="#000" textLength="90.0" lengthAdjust="spacingAndGlyphs"  text-rendering="geometricPrecision">2022-01-06</text>
<text x="435.3" y="787.0" font-size="16.90" text-anchor="end" fill="#000" textLength="55.5" lengthAdjust="spacingAndGlyphs"  text-rendering="geometricPrecision">524.60</text>
<text x="514.2" y="787.0" font-size="16.90" text-anchor="end" fill="#000" textLength="19.3" lengthAdjust="spacingAndGlyphs"  text-rendering="geometricPrecision">97</text>
<text x="585.2" y="787.0" font-size="16.90" text-anchor="end" fill="#000" textLength="45.2" lengthAdjust="spacingAndGlyphs"  text-rendering="geometricPrecision">23.00</text>
<text x="86.2" y="803.8" font-size="16.90" text-anchor="start" fill="#000" textLength="90.0" lengthAdjust="spacingAndGlyphs"  text-rendering="geometricPrecision">2022-01-10</text>
<text x="255.6" y="803.8" font-size="16.90" text-anchor="end" fill="#000" textLength="55.5" lengthAdjust="spacingAndGlyphs"  text-rendering="geometricPrecision">494.98</text>
<text x="260.5" y="803.8" font-size="16.90" text-anchor="start" fill="#000" textLength="90.0" lengthAdjust="spacingAndGlyphs"  text-rendering="geometricPrecision">2024-03-08</text>
<text x="435.3" y="803.8" font-size="16.90" text-anchor="end" fill="#000" textLength="55.5" lengthAdjust="spacingAndGlyphs"  text-rendering="geometricPrecision">718.94</text>
<text x="520.0" y="803.8" font-size="16.90" text-anchor="end" fill="#000" textLength="29.0" lengthAdjust="spacingAndGlyphs"  text-rendering="geometricPrecision">788</text>
<text x="590.4" y="803.8" font-size="16.90" text-anchor="end" fill="#000" textLength="45.2" lengthAdjust="spacingAndGlyphs"  text-rendering="geometricPrecision">45.25</text>
<text x="86.2" y="821.8" font-size="16.90" text-anchor="start" fill="#000" textLength="90.0" lengthAdjust="spacingAndGlyphs"  text-rendering="geometricPrecision">2024-04-01</text>
<text x="255.6" y="821.8" font-size="16.90" text-anchor="end" fill="#000" textLength="55.5" lengthAdjust="spacingAndGlyphs"  text-rendering="geometricPrecision">714.10</text>
<text x="260.5" y="821.8" font-size="16.90" text-anchor="start" fill="#000" textLength="90.0" lengthAdjust="spacingAndGlyphs"  text-rendering="geometricPrecision">2024-09-27</text>
<text x="435.3" y="821.8" font-size="16.90" text-anchor="end" fill="#000" textLength="55.5" lengthAdjust="spacingAndGlyphs"  text-rendering="geometricPrecision">880.26</text>
<text x="520.0" y="821.8" font-size="16.90" text-anchor="end" fill="#000" textLength="29.0" lengthAdjust="spacingAndGlyphs"  text-rendering="geometricPrecision">179</text>
<text x="590.4" y="821.8" font-size="16.90" text-anchor="end" fill="#000" textLength="45.2" lengthAdjust="spacingAndGlyphs"  text-rendering="geometricPrecision">23.27</text>
<text x="86.2" y="838.9" font-size="16.90" text-anchor="start" fill="#000" textLength="90.0" lengthAdjust="spacingAndGlyphs"  text-rendering="geometricPrecision">2024-10-07</text>
<text x="255.6" y="838.9" font-size="16.90" text-anchor="end" fill="#000" textLength="55.5" lengthAdjust="spacingAndGlyphs"  text-rendering="geometricPrecision">868.22</text>
<text x="260.5" y="838.9" font-size="16.90" text-anchor="start" fill="#000" textLength="90.0" lengthAdjust="spacingAndGlyphs"  text-rendering="geometricPrecision">2026-01-22</text>
<text x="435.3" y="838.9" font-size="16.90" text-anchor="end" fill="#000" textLength="55.5" lengthAdjust="spacingAndGlyphs"  text-rendering="geometricPrecision">981.14</text>
<text x="520.0" y="838.9" font-size="16.90" text-anchor="end" fill="#000" textLength="29.0" lengthAdjust="spacingAndGlyphs"  text-rendering="geometricPrecision">472</text>
<text x="590.4" y="838.9" font-size="16.90" text-anchor="end" fill="#000" textLength="45.2" lengthAdjust="spacingAndGlyphs"  text-rendering="geometricPrecision">13.01</text>
</g>
</svg>
</body></html>
